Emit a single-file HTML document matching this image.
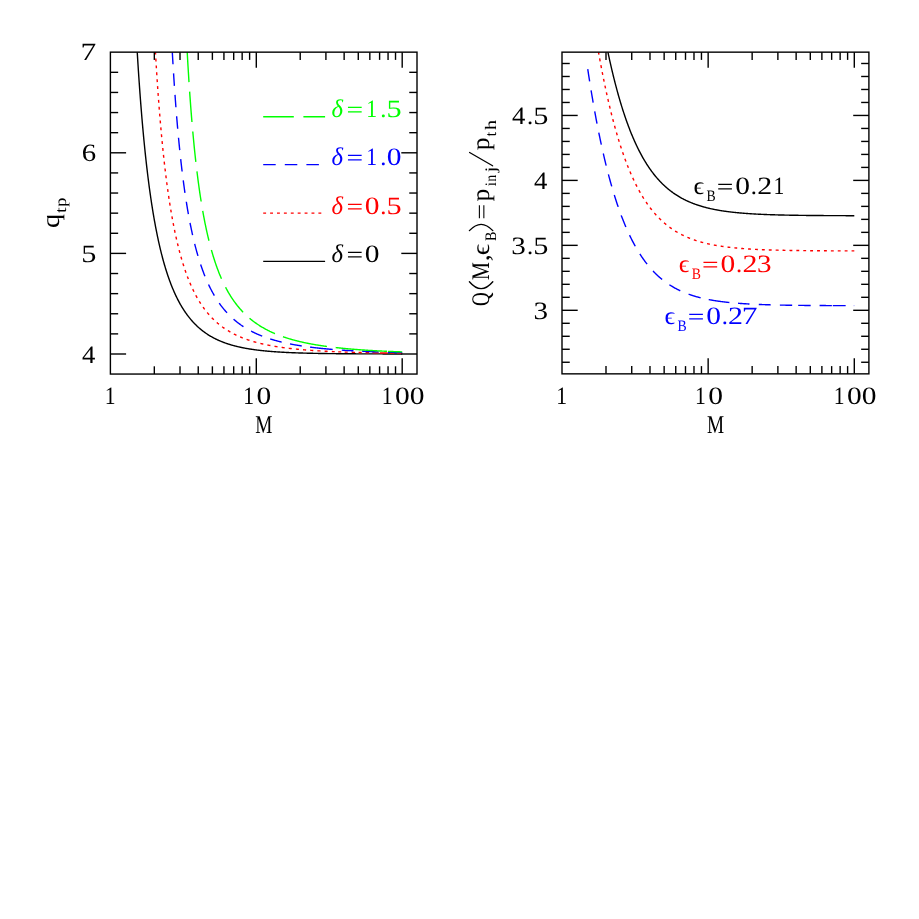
<!DOCTYPE html>
<html><head><meta charset="utf-8"><title>chart</title>
<style>html,body{margin:0;padding:0;background:#fff}svg{display:block;will-change:transform}text{font-family:"Liberation Serif",serif;text-rendering:geometricPrecision}</style>
</head><body>
<svg width="919" height="919" viewBox="0 0 919 919">
<rect width="919" height="919" fill="#fff"/>
<defs><clipPath id="cl"><rect x="110.4" y="52.15" width="306.6" height="321.90000000000003"/></clipPath><clipPath id="cr"><rect x="562.0" y="52.15" width="306.9" height="321.70000000000005"/></clipPath></defs>
<path d="M137.24,52.15 L137.62,58.41 L138.02,64.78 L138.42,70.95 L138.82,76.93 L139.22,82.74 L139.62,88.38 L140.02,93.86 L140.42,99.18 L140.82,104.35 L141.22,109.38 L141.61,114.26 L142.01,119.02 L142.41,123.65 L142.81,128.15 L143.21,132.54 L143.61,136.81 L144.01,140.97 L144.41,145.02 L144.81,148.97 L145.21,152.82 L145.61,156.58 L146.01,160.24 L146.41,163.81 L146.81,167.30 L147.20,170.70 L147.60,174.02 L148.00,177.27 L148.40,180.44 L148.80,183.53 L149.20,186.55 L149.60,189.51 L150.00,192.40 L150.40,195.22 L150.80,197.98 L151.20,200.68 L151.60,203.31 L152.00,205.90 L152.39,208.42 L152.79,210.89 L153.19,213.31 L153.59,215.68 L153.99,218.00 L154.39,220.27 L154.79,222.49 L155.19,224.66 L155.59,226.80 L155.99,228.88 L156.39,230.93 L156.79,232.94 L157.19,234.90 L157.59,236.83 L157.98,238.71 L158.38,240.56 L158.78,242.38 L159.18,244.16 L159.58,245.90 L159.98,247.62 L160.38,249.29 L160.78,250.94 L161.18,252.56 L161.58,254.14 L161.98,255.70 L162.38,257.23 L162.78,258.73 L163.18,260.20 L163.57,261.64 L163.97,263.06 L164.37,264.45 L164.77,265.82 L165.17,267.16 L165.57,268.48 L165.97,269.77 L166.37,271.05 L166.77,272.30 L167.17,273.52 L167.57,274.73 L167.97,275.92 L168.37,277.08 L168.76,278.23 L169.16,279.35 L169.56,280.46 L169.96,281.54 L170.36,282.61 L170.76,283.66 L171.16,284.69 L171.56,285.71 L171.96,286.71 L172.36,287.69 L172.76,288.65 L173.16,289.60 L173.56,290.54 L173.96,291.46 L174.35,292.36 L174.75,293.25 L175.15,294.12 L175.55,294.98 L175.95,295.83 L176.35,296.66 L176.75,297.48 L177.15,298.28 L177.55,299.08 L177.95,299.86 L178.35,300.63 L178.75,301.38 L179.15,302.13 L179.54,302.86 L179.94,303.58 L180.34,304.29 L180.74,304.99 L181.14,305.67 L181.54,306.35 L181.94,307.02 L182.34,307.67 L182.74,308.32 L183.14,308.96 L183.54,309.58 L183.94,310.20 L184.34,310.81 L184.74,311.40 L185.13,311.99 L185.53,312.57 L185.93,313.14 L186.33,313.71 L186.73,314.26 L187.13,314.81 L187.53,315.35 L187.93,315.88 L188.33,316.40 L188.73,316.91 L189.13,317.42 L189.53,317.92 L189.93,318.41 L190.32,318.89 L190.72,319.37 L191.12,319.84 L191.52,320.31 L191.92,320.76 L192.32,321.21 L192.72,321.66 L193.12,322.09 L193.52,322.52 L193.92,322.95 L194.32,323.37 L194.72,323.78 L195.12,324.19 L195.52,324.59 L195.91,324.98 L196.31,325.37 L196.71,325.76 L197.11,326.13 L197.51,326.51 L197.91,326.87 L198.31,327.24 L198.71,327.59 L199.11,327.95 L199.51,328.29 L199.91,328.63 L200.31,328.97 L200.71,329.30 L201.10,329.63 L201.50,329.96 L201.90,330.28 L202.30,330.59 L202.70,330.90 L203.10,331.21 L203.50,331.51 L203.90,331.80 L204.30,332.10 L204.70,332.39 L205.10,332.67 L205.50,332.95 L205.90,333.23 L206.30,333.50 L206.69,333.77 L207.09,334.04 L207.49,334.30 L207.89,334.56 L208.29,334.81 L208.69,335.07 L209.09,335.31 L209.49,335.56 L209.89,335.80 L210.29,336.04 L210.69,336.27 L211.09,336.50 L211.49,336.73 L211.88,336.96 L212.28,337.18 L212.68,337.40 L213.08,337.62 L213.48,337.83 L213.88,338.04 L214.28,338.25 L214.68,338.45 L215.08,338.65 L215.48,338.85 L215.88,339.05 L216.28,339.25 L216.68,339.44 L217.08,339.63 L217.47,339.81 L217.87,340.00 L218.27,340.18 L218.67,340.36 L219.07,340.53 L219.47,340.71 L219.87,340.88 L220.27,341.05 L220.67,341.22 L221.07,341.38 L221.47,341.54 L221.87,341.70 L222.27,341.86 L222.67,342.02 L223.06,342.17 L223.46,342.33 L223.86,342.48 L224.26,342.63 L224.66,342.77 L225.06,342.92 L225.46,343.06 L225.86,343.20 L226.26,343.34 L226.66,343.48 L227.06,343.61 L227.46,343.74 L227.86,343.88 L228.25,344.01 L228.65,344.13 L229.05,344.26 L229.45,344.39 L229.85,344.51 L230.25,344.63 L230.65,344.75 L231.05,344.87 L231.45,344.99 L231.85,345.10 L232.25,345.21 L232.65,345.33 L233.05,345.44 L233.45,345.55 L233.84,345.66 L234.24,345.76 L234.64,345.87 L235.04,345.97 L235.44,346.07 L235.84,346.18 L236.24,346.27 L236.64,346.37 L237.04,346.47 L237.44,346.57 L237.84,346.66 L238.24,346.76 L238.64,346.85 L239.03,346.94 L239.43,347.03 L239.83,347.12 L240.23,347.21 L240.63,347.29 L241.03,347.38 L241.43,347.46 L241.83,347.54 L242.23,347.63 L242.63,347.71 L243.03,347.79 L243.43,347.87 L243.83,347.94 L244.23,348.02 L244.62,348.10 L245.02,348.17 L245.42,348.25 L245.82,348.32 L246.22,348.39 L246.62,348.46 L247.02,348.53 L247.42,348.60 L247.82,348.67 L248.22,348.74 L248.62,348.81 L249.02,348.87 L249.42,348.94 L249.81,349.00 L250.21,349.06 L250.61,349.13 L251.01,349.19 L251.41,349.25 L251.81,349.31 L252.21,349.37 L252.61,349.43 L253.01,349.49 L253.41,349.54 L253.81,349.60 L254.21,349.65 L254.61,349.71 L255.01,349.76 L255.40,349.82 L255.80,349.87 L256.20,349.92 L256.60,349.97 L257.00,350.03 L257.40,350.08 L257.80,350.13 L258.20,350.17 L258.60,350.22 L259.00,350.27 L259.40,350.32 L259.80,350.36 L260.20,350.41 L260.59,350.46 L260.99,350.50 L261.39,350.54 L261.79,350.59 L262.19,350.63 L262.59,350.67 L262.99,350.72 L263.39,350.76 L263.79,350.80 L264.19,350.84 L264.59,350.88 L264.99,350.92 L265.39,350.96 L265.79,350.99 L266.18,351.03 L266.58,351.07 L266.98,351.11 L267.38,351.14 L267.78,351.18 L268.18,351.22 L268.58,351.25 L268.98,351.29 L269.38,351.32 L269.78,351.35 L270.18,351.39 L270.58,351.42 L270.98,351.45 L271.38,351.48 L271.77,351.52 L272.17,351.55 L272.57,351.58 L272.97,351.61 L273.37,351.64 L273.77,351.67 L274.17,351.70 L274.57,351.73 L274.97,351.76 L275.37,351.78 L275.77,351.81 L276.17,351.84 L276.57,351.87 L276.96,351.89 L277.36,351.92 L277.76,351.95 L278.16,351.97 L278.56,352.00 L278.96,352.02 L279.36,352.05 L279.76,352.07 L280.16,352.10 L280.56,352.12 L280.96,352.14 L281.36,352.17 L281.76,352.19 L282.16,352.21 L282.55,352.24 L282.95,352.26 L283.35,352.28 L283.75,352.30 L284.15,352.32 L284.55,352.34 L284.95,352.36 L285.35,352.38 L285.75,352.41 L286.15,352.43 L286.55,352.45 L286.95,352.46 L287.35,352.48 L287.74,352.50 L288.14,352.52 L288.54,352.54 L288.94,352.56 L289.34,352.58 L289.74,352.59 L290.14,352.61 L290.54,352.63 L290.94,352.65 L291.34,352.66 L291.74,352.68 L292.14,352.70 L292.54,352.71 L292.94,352.73 L293.33,352.75 L293.73,352.76 L294.13,352.78 L294.53,352.79 L294.93,352.81 L295.33,352.82 L295.73,352.84 L296.13,352.85 L296.53,352.87 L296.93,352.88 L297.33,352.89 L297.73,352.91 L298.13,352.92 L298.52,352.94 L298.92,352.95 L299.32,352.96 L299.72,352.98 L300.12,352.99 L300.52,353.00 L300.92,353.01 L301.32,353.03 L301.72,353.04 L302.12,353.05 L302.52,353.06 L302.92,353.07 L303.32,353.09 L303.72,353.10 L304.11,353.11 L304.51,353.12 L304.91,353.13 L305.31,353.14 L305.71,353.15 L306.11,353.16 L306.51,353.17 L306.91,353.18 L307.31,353.19 L307.71,353.20 L308.11,353.21 L308.51,353.22 L308.91,353.23 L309.30,353.24 L309.70,353.25 L310.10,353.26 L310.50,353.27 L310.90,353.28 L311.30,353.29 L311.70,353.30 L312.10,353.31 L312.50,353.32 L312.90,353.32 L313.30,353.33 L313.70,353.34 L314.10,353.35 L314.50,353.36 L314.89,353.37 L315.29,353.37 L315.69,353.38 L316.09,353.39 L316.49,353.40 L316.89,353.40 L317.29,353.41 L317.69,353.42 L318.09,353.43 L318.49,353.43 L318.89,353.44 L319.29,353.45 L319.69,353.46 L320.09,353.46 L320.48,353.47 L320.88,353.48 L321.28,353.48 L321.68,353.49 L322.08,353.49 L322.48,353.50 L322.88,353.51 L323.28,353.51 L323.68,353.52 L324.08,353.53 L324.48,353.53 L324.88,353.54 L325.28,353.54 L325.67,353.55 L326.07,353.55 L326.47,353.56 L326.87,353.57 L327.27,353.57 L327.67,353.58 L328.07,353.58 L328.47,353.59 L328.87,353.59 L329.27,353.60 L329.67,353.60 L330.07,353.61 L330.47,353.61 L330.87,353.62 L331.26,353.62 L331.66,353.63 L332.06,353.63 L332.46,353.64 L332.86,353.64 L333.26,353.65 L333.66,353.65 L334.06,353.65 L334.46,353.66 L334.86,353.66 L335.26,353.67 L335.66,353.67 L336.06,353.68 L336.45,353.68 L336.85,353.68 L337.25,353.69 L337.65,353.69 L338.05,353.69 L338.45,353.70 L338.85,353.70 L339.25,353.71 L339.65,353.71 L340.05,353.71 L340.45,353.72 L340.85,353.72 L341.25,353.72 L341.65,353.73 L342.04,353.73 L342.44,353.73 L342.84,353.74 L343.24,353.74 L343.64,353.74 L344.04,353.75 L344.44,353.75 L344.84,353.75 L345.24,353.76 L345.64,353.76 L346.04,353.76 L346.44,353.77 L346.84,353.77 L347.23,353.77 L347.63,353.77 L348.03,353.78 L348.43,353.78 L348.83,353.78 L349.23,353.79 L349.63,353.79 L350.03,353.79 L350.43,353.79 L350.83,353.80 L351.23,353.80 L351.63,353.80 L352.03,353.80 L352.43,353.81 L352.82,353.81 L353.22,353.81 L353.62,353.81 L354.02,353.82 L354.42,353.82 L354.82,353.82 L355.22,353.82 L355.62,353.82 L356.02,353.83 L356.42,353.83 L356.82,353.83 L357.22,353.83 L357.62,353.84 L358.01,353.84 L358.41,353.84 L358.81,353.84 L359.21,353.84 L359.61,353.85 L360.01,353.85 L360.41,353.85 L360.81,353.85 L361.21,353.85 L361.61,353.86 L362.01,353.86 L362.41,353.86 L362.81,353.86 L363.21,353.86 L363.60,353.86 L364.00,353.87 L364.40,353.87 L364.80,353.87 L365.20,353.87 L365.60,353.87 L366.00,353.87 L366.40,353.88 L366.80,353.88 L367.20,353.88 L367.60,353.88 L368.00,353.88 L368.40,353.88 L368.80,353.88 L369.19,353.89 L369.59,353.89 L369.99,353.89 L370.39,353.89 L370.79,353.89 L371.19,353.89 L371.59,353.89 L371.99,353.90 L372.39,353.90 L372.79,353.90 L373.19,353.90 L373.59,353.90 L373.99,353.90 L374.38,353.90 L374.78,353.90 L375.18,353.91 L375.58,353.91 L375.98,353.91 L376.38,353.91 L376.78,353.91 L377.18,353.91 L377.58,353.91 L377.98,353.91 L378.38,353.91 L378.78,353.92 L379.18,353.92 L379.58,353.92 L379.97,353.92 L380.37,353.92 L380.77,353.92 L381.17,353.92 L381.57,353.92 L381.97,353.92 L382.37,353.92 L382.77,353.93 L383.17,353.93 L383.57,353.93 L383.97,353.93 L384.37,353.93 L384.77,353.93 L385.16,353.93 L385.56,353.93 L385.96,353.93 L386.36,353.93 L386.76,353.93 L387.16,353.94 L387.56,353.94 L387.96,353.94 L388.36,353.94 L388.76,353.94 L389.16,353.94 L389.56,353.94 L389.96,353.94 L390.36,353.94 L390.75,353.94 L391.15,353.94 L391.55,353.94 L391.95,353.94 L392.35,353.95 L392.75,353.95 L393.15,353.95 L393.55,353.95 L393.95,353.95 L394.35,353.95 L394.75,353.95 L395.15,353.95 L395.55,353.95 L395.94,353.95 L396.34,353.95 L396.74,353.95 L397.14,353.95 L397.54,353.95 L397.94,353.95 L398.34,353.95 L398.74,353.96 L399.14,353.96 L399.54,353.96 L399.94,353.96 L400.34,353.96 L400.74,353.96 L401.14,353.96 L401.53,353.96 L401.93,353.96 L402.20,353.96" fill="none" stroke="#000" stroke-width="1.4" clip-path="url(#cl)"/>
<path d="M155.43,52.15 L155.79,58.31 L156.19,64.89 L156.59,71.24 L156.99,77.40 L157.39,83.35 L157.78,89.11 L158.18,94.70 L158.58,100.11 L158.98,105.36 L159.38,110.45 L159.78,115.38 L160.18,120.18 L160.58,124.83 L160.98,129.35 L161.38,133.75 L161.78,138.02 L162.18,142.17 L162.58,146.21 L162.98,150.14 L163.37,153.96 L163.77,157.68 L164.17,161.31 L164.57,164.84 L164.97,168.28 L165.37,171.63 L165.77,174.90 L166.17,178.08 L166.57,181.19 L166.97,184.22 L167.37,187.18 L167.77,190.06 L168.17,192.88 L168.57,195.63 L168.96,198.32 L169.36,200.94 L169.76,203.51 L170.16,206.01 L170.56,208.46 L170.96,210.86 L171.36,213.20 L171.76,215.49 L172.16,217.72 L172.56,219.91 L172.96,222.06 L173.36,224.15 L173.76,226.21 L174.15,228.22 L174.55,230.18 L174.95,232.11 L175.35,233.99 L175.75,235.84 L176.15,237.65 L176.55,239.42 L176.95,241.16 L177.35,242.86 L177.75,244.53 L178.15,246.17 L178.55,247.77 L178.95,249.35 L179.35,250.89 L179.74,252.40 L180.14,253.89 L180.54,255.34 L180.94,256.77 L181.34,258.17 L181.74,259.55 L182.14,260.90 L182.54,262.22 L182.94,263.52 L183.34,264.80 L183.74,266.05 L184.14,267.28 L184.54,268.49 L184.93,269.68 L185.33,270.85 L185.73,271.99 L186.13,273.12 L186.53,274.23 L186.93,275.31 L187.33,276.38 L187.73,277.43 L188.13,278.46 L188.53,279.48 L188.93,280.47 L189.33,281.45 L189.73,282.42 L190.13,283.37 L190.52,284.30 L190.92,285.21 L191.32,286.11 L191.72,287.00 L192.12,287.87 L192.52,288.73 L192.92,289.57 L193.32,290.41 L193.72,291.22 L194.12,292.03 L194.52,292.82 L194.92,293.60 L195.32,294.36 L195.71,295.12 L196.11,295.86 L196.51,296.59 L196.91,297.31 L197.31,298.02 L197.71,298.71 L198.11,299.40 L198.51,300.08 L198.91,300.74 L199.31,301.40 L199.71,302.04 L200.11,302.68 L200.51,303.31 L200.91,303.92 L201.30,304.53 L201.70,305.13 L202.10,305.72 L202.50,306.30 L202.90,306.87 L203.30,307.44 L203.70,307.99 L204.10,308.54 L204.50,309.08 L204.90,309.61 L205.30,310.14 L205.70,310.66 L206.10,311.16 L206.49,311.67 L206.89,312.16 L207.29,312.65 L207.69,313.13 L208.09,313.61 L208.49,314.07 L208.89,314.54 L209.29,314.99 L209.69,315.44 L210.09,315.88 L210.49,316.32 L210.89,316.75 L211.29,317.17 L211.69,317.59 L212.08,318.00 L212.48,318.41 L212.88,318.81 L213.28,319.21 L213.68,319.60 L214.08,319.98 L214.48,320.36 L214.88,320.74 L215.28,321.11 L215.68,321.47 L216.08,321.83 L216.48,322.19 L216.88,322.54 L217.28,322.89 L217.67,323.23 L218.07,323.56 L218.47,323.90 L218.87,324.23 L219.27,324.55 L219.67,324.87 L220.07,325.19 L220.47,325.50 L220.87,325.81 L221.27,326.11 L221.67,326.41 L222.07,326.70 L222.47,327.00 L222.86,327.29 L223.26,327.57 L223.66,327.85 L224.06,328.13 L224.46,328.40 L224.86,328.67 L225.26,328.94 L225.66,329.21 L226.06,329.47 L226.46,329.72 L226.86,329.98 L227.26,330.23 L227.66,330.48 L228.06,330.72 L228.45,330.96 L228.85,331.20 L229.25,331.44 L229.65,331.67 L230.05,331.90 L230.45,332.13 L230.85,332.35 L231.25,332.58 L231.65,332.79 L232.05,333.01 L232.45,333.23 L232.85,333.44 L233.25,333.65 L233.64,333.85 L234.04,334.06 L234.44,334.26 L234.84,334.46 L235.24,334.65 L235.64,334.85 L236.04,335.04 L236.44,335.23 L236.84,335.42 L237.24,335.60 L237.64,335.79 L238.04,335.97 L238.44,336.15 L238.84,336.32 L239.23,336.50 L239.63,336.67 L240.03,336.84 L240.43,337.01 L240.83,337.18 L241.23,337.34 L241.63,337.50 L242.03,337.67 L242.43,337.82 L242.83,337.98 L243.23,338.14 L243.63,338.29 L244.03,338.44 L244.42,338.59 L244.82,338.74 L245.22,338.89 L245.62,339.04 L246.02,339.18 L246.42,339.32 L246.82,339.46 L247.22,339.60 L247.62,339.74 L248.02,339.87 L248.42,340.01 L248.82,340.14 L249.22,340.27 L249.62,340.40 L250.01,340.53 L250.41,340.66 L250.81,340.78 L251.21,340.91 L251.61,341.03 L252.01,341.15 L252.41,341.27 L252.81,341.39 L253.21,341.51 L253.61,341.63 L254.01,341.74 L254.41,341.85 L254.81,341.97 L255.20,342.08 L255.60,342.19 L256.00,342.30 L256.40,342.41 L256.80,342.51 L257.20,342.62 L257.60,342.72 L258.00,342.83 L258.40,342.93 L258.80,343.03 L259.20,343.13 L259.60,343.23 L260.00,343.33 L260.40,343.42 L260.79,343.52 L261.19,343.61 L261.59,343.71 L261.99,343.80 L262.39,343.89 L262.79,343.98 L263.19,344.07 L263.59,344.16 L263.99,344.25 L264.39,344.34 L264.79,344.42 L265.19,344.51 L265.59,344.59 L265.99,344.68 L266.38,344.76 L266.78,344.84 L267.18,344.92 L267.58,345.00 L267.98,345.08 L268.38,345.16 L268.78,345.24 L269.18,345.32 L269.58,345.39 L269.98,345.47 L270.38,345.54 L270.78,345.62 L271.18,345.69 L271.57,345.76 L271.97,345.83 L272.37,345.91 L272.77,345.98 L273.17,346.05 L273.57,346.11 L273.97,346.18 L274.37,346.25 L274.77,346.32 L275.17,346.38 L275.57,346.45 L275.97,346.51 L276.37,346.58 L276.77,346.64 L277.16,346.70 L277.56,346.77 L277.96,346.83 L278.36,346.89 L278.76,346.95 L279.16,347.01 L279.56,347.07 L279.96,347.13 L280.36,347.19 L280.76,347.24 L281.16,347.30 L281.56,347.36 L281.96,347.41 L282.35,347.47 L282.75,347.52 L283.15,347.58 L283.55,347.63 L283.95,347.69 L284.35,347.74 L284.75,347.79 L285.15,347.84 L285.55,347.89 L285.95,347.94 L286.35,347.99 L286.75,348.04 L287.15,348.09 L287.55,348.14 L287.94,348.19 L288.34,348.24 L288.74,348.29 L289.14,348.33 L289.54,348.38 L289.94,348.43 L290.34,348.47 L290.74,348.52 L291.14,348.56 L291.54,348.61 L291.94,348.65 L292.34,348.69 L292.74,348.74 L293.13,348.78 L293.53,348.82 L293.93,348.87 L294.33,348.91 L294.73,348.95 L295.13,348.99 L295.53,349.03 L295.93,349.07 L296.33,349.11 L296.73,349.15 L297.13,349.19 L297.53,349.23 L297.93,349.27 L298.33,349.30 L298.72,349.34 L299.12,349.38 L299.52,349.41 L299.92,349.45 L300.32,349.49 L300.72,349.52 L301.12,349.56 L301.52,349.59 L301.92,349.63 L302.32,349.66 L302.72,349.70 L303.12,349.73 L303.52,349.77 L303.91,349.80 L304.31,349.83 L304.71,349.87 L305.11,349.90 L305.51,349.93 L305.91,349.96 L306.31,349.99 L306.71,350.03 L307.11,350.06 L307.51,350.09 L307.91,350.12 L308.31,350.15 L308.71,350.18 L309.11,350.21 L309.50,350.24 L309.90,350.27 L310.30,350.30 L310.70,350.32 L311.10,350.35 L311.50,350.38 L311.90,350.41 L312.30,350.44 L312.70,350.46 L313.10,350.49 L313.50,350.52 L313.90,350.55 L314.30,350.57 L314.70,350.60 L315.09,350.62 L315.49,350.65 L315.89,350.68 L316.29,350.70 L316.69,350.73 L317.09,350.75 L317.49,350.78 L317.89,350.80 L318.29,350.83 L318.69,350.85 L319.09,350.87 L319.49,350.90 L319.89,350.92 L320.28,350.94 L320.68,350.97 L321.08,350.99 L321.48,351.01 L321.88,351.04 L322.28,351.06 L322.68,351.08 L323.08,351.10 L323.48,351.12 L323.88,351.15 L324.28,351.17 L324.68,351.19 L325.08,351.21 L325.48,351.23 L325.87,351.25 L326.27,351.27 L326.67,351.29 L327.07,351.31 L327.47,351.33 L327.87,351.35 L328.27,351.37 L328.67,351.39 L329.07,351.41 L329.47,351.43 L329.87,351.45 L330.27,351.47 L330.67,351.49 L331.06,351.51 L331.46,351.52 L331.86,351.54 L332.26,351.56 L332.66,351.58 L333.06,351.60 L333.46,351.61 L333.86,351.63 L334.26,351.65 L334.66,351.67 L335.06,351.68 L335.46,351.70 L335.86,351.72 L336.26,351.73 L336.65,351.75 L337.05,351.77 L337.45,351.78 L337.85,351.80 L338.25,351.82 L338.65,351.83 L339.05,351.85 L339.45,351.86 L339.85,351.88 L340.25,351.89 L340.65,351.91 L341.05,351.92 L341.45,351.94 L341.84,351.95 L342.24,351.97 L342.64,351.98 L343.04,352.00 L343.44,352.01 L343.84,352.03 L344.24,352.04 L344.64,352.06 L345.04,352.07 L345.44,352.08 L345.84,352.10 L346.24,352.11 L346.64,352.12 L347.04,352.14 L347.43,352.15 L347.83,352.16 L348.23,352.18 L348.63,352.19 L349.03,352.20 L349.43,352.22 L349.83,352.23 L350.23,352.24 L350.63,352.25 L351.03,352.27 L351.43,352.28 L351.83,352.29 L352.23,352.30 L352.62,352.32 L353.02,352.33 L353.42,352.34 L353.82,352.35 L354.22,352.36 L354.62,352.37 L355.02,352.39 L355.42,352.40 L355.82,352.41 L356.22,352.42 L356.62,352.43 L357.02,352.44 L357.42,352.45 L357.82,352.46 L358.21,352.48 L358.61,352.49 L359.01,352.50 L359.41,352.51 L359.81,352.52 L360.21,352.53 L360.61,352.54 L361.01,352.55 L361.41,352.56 L361.81,352.57 L362.21,352.58 L362.61,352.59 L363.01,352.60 L363.41,352.61 L363.80,352.62 L364.20,352.63 L364.60,352.64 L365.00,352.65 L365.40,352.66 L365.80,352.67 L366.20,352.67 L366.60,352.68 L367.00,352.69 L367.40,352.70 L367.80,352.71 L368.20,352.72 L368.60,352.73 L368.99,352.74 L369.39,352.75 L369.79,352.76 L370.19,352.76 L370.59,352.77 L370.99,352.78 L371.39,352.79 L371.79,352.80 L372.19,352.81 L372.59,352.81 L372.99,352.82 L373.39,352.83 L373.79,352.84 L374.19,352.85 L374.58,352.85 L374.98,352.86 L375.38,352.87 L375.78,352.88 L376.18,352.89 L376.58,352.89 L376.98,352.90 L377.38,352.91 L377.78,352.92 L378.18,352.92 L378.58,352.93 L378.98,352.94 L379.38,352.95 L379.77,352.95 L380.17,352.96 L380.57,352.97 L380.97,352.97 L381.37,352.98 L381.77,352.99 L382.17,352.99 L382.57,353.00 L382.97,353.01 L383.37,353.02 L383.77,353.02 L384.17,353.03 L384.57,353.04 L384.97,353.04 L385.36,353.05 L385.76,353.05 L386.16,353.06 L386.56,353.07 L386.96,353.07 L387.36,353.08 L387.76,353.09 L388.16,353.09 L388.56,353.10 L388.96,353.10 L389.36,353.11 L389.76,353.12 L390.16,353.12 L390.55,353.13 L390.95,353.13 L391.35,353.14 L391.75,353.15 L392.15,353.15 L392.55,353.16 L392.95,353.16 L393.35,353.17 L393.75,353.17 L394.15,353.18 L394.55,353.19 L394.95,353.19 L395.35,353.20 L395.75,353.20 L396.14,353.21 L396.54,353.21 L396.94,353.22 L397.34,353.22 L397.74,353.23 L398.14,353.23 L398.54,353.24 L398.94,353.24 L399.34,353.25 L399.74,353.25 L400.14,353.26 L400.54,353.26 L400.94,353.27 L401.33,353.27 L401.73,353.28 L402.13,353.28 L402.20,353.28" fill="none" stroke="#ff0000" stroke-width="1.4" stroke-dasharray="2.40 4.00 2.90 4.00 2.90 4.00 2.90 4.00 2.90 4.00 2.90 4.00 2.90 4.00 2.90 4.00 2.90 4.00 2.90 4.00 2.90 4.00 2.90 4.00 2.90 4.00 2.90 4.00 2.90 4.00 2.90 4.00 2.90 4.00 2.90 4.00 2.90 4.00 2.90 4.00 2.90 4.00 2.90 4.00 2.90 4.00 2.90 4.00 2.90 4.00 2.90 4.00 2.90 4.00 2.90 4.00 2.90 4.00 2.90 4.00 2.90 4.00 2.90 4.00 2.90 4.00 2.90 4.00 2.90 4.00 2.90 4.00 2.90 4.00 2.90 4.00 2.90 4.00 2.90 4.00 2.90 4.00 2.90 4.00 2.90 4.00 2.90 4.00 2.90 4.00 2.90 4.00 3.05 4.15 3.05 4.15 3.05 4.15 3.05 4.15 3.05 4.15 3.05 4.15 3.05 4.15 3.05 4.15 3.05 4.15 3.05 4.15 3.05 4.15 3.05 4.15 2.90 3.50 3.00 3.50 3.00 4.00 3.40 3.50 3.10 3.90 3.50 3.40 6.10 1.30 7.90 2.20 4.30 2.60 10.20 5000.00" clip-path="url(#cl)"/>
<path d="M172.30,52.15 L172.69,59.02 L173.09,65.75 L173.49,72.24 L173.89,78.50 L174.29,84.55 L174.69,90.40 L175.09,96.05 L175.49,101.51 L175.88,106.80 L176.28,111.91 L176.68,116.87 L177.08,121.68 L177.48,126.33 L177.88,130.85 L178.28,135.23 L178.68,139.48 L179.08,143.61 L179.48,147.62 L179.88,151.51 L180.28,155.30 L180.68,158.98 L181.08,162.56 L181.47,166.04 L181.87,169.43 L182.27,172.73 L182.67,175.94 L183.07,179.07 L183.47,182.12 L183.87,185.10 L184.27,187.99 L184.67,190.82 L185.07,193.57 L185.47,196.26 L185.87,198.88 L186.27,201.44 L186.66,203.94 L187.06,206.38 L187.46,208.77 L187.86,211.10 L188.26,213.37 L188.66,215.60 L189.06,217.77 L189.46,219.90 L189.86,221.97 L190.26,224.01 L190.66,226.00 L191.06,227.94 L191.46,229.85 L191.86,231.71 L192.25,233.54 L192.65,235.32 L193.05,237.07 L193.45,238.79 L193.85,240.47 L194.25,242.11 L194.65,243.72 L195.05,245.30 L195.45,246.85 L195.85,248.37 L196.25,249.86 L196.65,251.32 L197.05,252.75 L197.45,254.15 L197.84,255.53 L198.24,256.88 L198.64,258.20 L199.04,259.51 L199.44,260.78 L199.84,262.04 L200.24,263.27 L200.64,264.48 L201.04,265.66 L201.44,266.83 L201.84,267.97 L202.24,269.10 L202.64,270.20 L203.03,271.29 L203.43,272.35 L203.83,273.40 L204.23,274.43 L204.63,275.44 L205.03,276.44 L205.43,277.42 L205.83,278.38 L206.23,279.32 L206.63,280.25 L207.03,281.17 L207.43,282.07 L207.83,282.95 L208.23,283.82 L208.62,284.68 L209.02,285.52 L209.42,286.35 L209.82,287.16 L210.22,287.97 L210.62,288.76 L211.02,289.53 L211.42,290.30 L211.82,291.05 L212.22,291.79 L212.62,292.52 L213.02,293.24 L213.42,293.95 L213.81,294.65 L214.21,295.34 L214.61,296.01 L215.01,296.68 L215.41,297.34 L215.81,297.98 L216.21,298.62 L216.61,299.25 L217.01,299.87 L217.41,300.48 L217.81,301.08 L218.21,301.67 L218.61,302.25 L219.01,302.83 L219.40,303.39 L219.80,303.95 L220.20,304.50 L220.60,305.05 L221.00,305.58 L221.40,306.11 L221.80,306.63 L222.20,307.14 L222.60,307.65 L223.00,308.15 L223.40,308.64 L223.80,309.13 L224.20,309.60 L224.59,310.08 L224.99,310.54 L225.39,311.00 L225.79,311.46 L226.19,311.90 L226.59,312.34 L226.99,312.78 L227.39,313.21 L227.79,313.63 L228.19,314.05 L228.59,314.47 L228.99,314.87 L229.39,315.28 L229.79,315.67 L230.18,316.07 L230.58,316.45 L230.98,316.84 L231.38,317.21 L231.78,317.59 L232.18,317.95 L232.58,318.32 L232.98,318.67 L233.38,319.03 L233.78,319.38 L234.18,319.72 L234.58,320.06 L234.98,320.40 L235.37,320.73 L235.77,321.06 L236.17,321.39 L236.57,321.71 L236.97,322.02 L237.37,322.34 L237.77,322.64 L238.17,322.95 L238.57,323.25 L238.97,323.55 L239.37,323.84 L239.77,324.13 L240.17,324.42 L240.57,324.71 L240.96,324.99 L241.36,325.26 L241.76,325.54 L242.16,325.81 L242.56,326.07 L242.96,326.34 L243.36,326.60 L243.76,326.86 L244.16,327.11 L244.56,327.37 L244.96,327.62 L245.36,327.86 L245.76,328.11 L246.16,328.35 L246.55,328.59 L246.95,328.82 L247.35,329.05 L247.75,329.28 L248.15,329.51 L248.55,329.74 L248.95,329.96 L249.35,330.18 L249.75,330.40 L250.15,330.61 L250.55,330.82 L250.95,331.04 L251.35,331.24 L251.74,331.45 L252.14,331.65 L252.54,331.85 L252.94,332.05 L253.34,332.25 L253.74,332.45 L254.14,332.64 L254.54,332.83 L254.94,333.02 L255.34,333.20 L255.74,333.39 L256.14,333.57 L256.54,333.75 L256.94,333.93 L257.33,334.11 L257.73,334.28 L258.13,334.46 L258.53,334.63 L258.93,334.80 L259.33,334.96 L259.73,335.13 L260.13,335.29 L260.53,335.46 L260.93,335.62 L261.33,335.78 L261.73,335.93 L262.13,336.09 L262.52,336.24 L262.92,336.40 L263.32,336.55 L263.72,336.70 L264.12,336.84 L264.52,336.99 L264.92,337.14 L265.32,337.28 L265.72,337.42 L266.12,337.56 L266.52,337.70 L266.92,337.84 L267.32,337.98 L267.72,338.11 L268.11,338.25 L268.51,338.38 L268.91,338.51 L269.31,338.64 L269.71,338.77 L270.11,338.89 L270.51,339.02 L270.91,339.14 L271.31,339.27 L271.71,339.39 L272.11,339.51 L272.51,339.63 L272.91,339.75 L273.30,339.87 L273.70,339.98 L274.10,340.10 L274.50,340.21 L274.90,340.33 L275.30,340.44 L275.70,340.55 L276.10,340.66 L276.50,340.77 L276.90,340.88 L277.30,340.98 L277.70,341.09 L278.10,341.19 L278.50,341.30 L278.89,341.40 L279.29,341.50 L279.69,341.60 L280.09,341.70 L280.49,341.80 L280.89,341.90 L281.29,342.00 L281.69,342.09 L282.09,342.19 L282.49,342.28 L282.89,342.38 L283.29,342.47 L283.69,342.56 L284.08,342.65 L284.48,342.74 L284.88,342.83 L285.28,342.92 L285.68,343.01 L286.08,343.09 L286.48,343.18 L286.88,343.26 L287.28,343.35 L287.68,343.43 L288.08,343.52 L288.48,343.60 L288.88,343.68 L289.28,343.76 L289.67,343.84 L290.07,343.92 L290.47,344.00 L290.87,344.08 L291.27,344.15 L291.67,344.23 L292.07,344.31 L292.47,344.38 L292.87,344.45 L293.27,344.53 L293.67,344.60 L294.07,344.67 L294.47,344.75 L294.87,344.82 L295.26,344.89 L295.66,344.96 L296.06,345.03 L296.46,345.10 L296.86,345.16 L297.26,345.23 L297.66,345.30 L298.06,345.36 L298.46,345.43 L298.86,345.50 L299.26,345.56 L299.66,345.62 L300.06,345.69 L300.45,345.75 L300.85,345.81 L301.25,345.88 L301.65,345.94 L302.05,346.00 L302.45,346.06 L302.85,346.12 L303.25,346.18 L303.65,346.24 L304.05,346.29 L304.45,346.35 L304.85,346.41 L305.25,346.47 L305.65,346.52 L306.04,346.58 L306.44,346.63 L306.84,346.69 L307.24,346.74 L307.64,346.80 L308.04,346.85 L308.44,346.90 L308.84,346.96 L309.24,347.01 L309.64,347.06 L310.04,347.11 L310.44,347.16 L310.84,347.21 L311.23,347.26 L311.63,347.31 L312.03,347.36 L312.43,347.41 L312.83,347.46 L313.23,347.51 L313.63,347.56 L314.03,347.60 L314.43,347.65 L314.83,347.70 L315.23,347.74 L315.63,347.79 L316.03,347.83 L316.43,347.88 L316.82,347.92 L317.22,347.97 L317.62,348.01 L318.02,348.05 L318.42,348.10 L318.82,348.14 L319.22,348.18 L319.62,348.23 L320.02,348.27 L320.42,348.31 L320.82,348.35 L321.22,348.39 L321.62,348.43 L322.01,348.47 L322.41,348.51 L322.81,348.55 L323.21,348.59 L323.61,348.63 L324.01,348.67 L324.41,348.71 L324.81,348.74 L325.21,348.78 L325.61,348.82 L326.01,348.86 L326.41,348.89 L326.81,348.93 L327.21,348.97 L327.60,349.00 L328.00,349.04 L328.40,349.07 L328.80,349.11 L329.20,349.14 L329.60,349.18 L330.00,349.21 L330.40,349.25 L330.80,349.28 L331.20,349.31 L331.60,349.35 L332.00,349.38 L332.40,349.41 L332.79,349.44 L333.19,349.48 L333.59,349.51 L333.99,349.54 L334.39,349.57 L334.79,349.60 L335.19,349.63 L335.59,349.66 L335.99,349.69 L336.39,349.72 L336.79,349.75 L337.19,349.78 L337.59,349.81 L337.99,349.84 L338.38,349.87 L338.78,349.90 L339.18,349.93 L339.58,349.96 L339.98,349.99 L340.38,350.01 L340.78,350.04 L341.18,350.07 L341.58,350.10 L341.98,350.12 L342.38,350.15 L342.78,350.18 L343.18,350.21 L343.57,350.23 L343.97,350.26 L344.37,350.28 L344.77,350.31 L345.17,350.33 L345.57,350.36 L345.97,350.39 L346.37,350.41 L346.77,350.44 L347.17,350.46 L347.57,350.48 L347.97,350.51 L348.37,350.53 L348.77,350.56 L349.16,350.58 L349.56,350.60 L349.96,350.63 L350.36,350.65 L350.76,350.67 L351.16,350.70 L351.56,350.72 L351.96,350.74 L352.36,350.76 L352.76,350.79 L353.16,350.81 L353.56,350.83 L353.96,350.85 L354.36,350.87 L354.75,350.90 L355.15,350.92 L355.55,350.94 L355.95,350.96 L356.35,350.98 L356.75,351.00 L357.15,351.02 L357.55,351.04 L357.95,351.06 L358.35,351.08 L358.75,351.10 L359.15,351.12 L359.55,351.14 L359.94,351.16 L360.34,351.18 L360.74,351.20 L361.14,351.22 L361.54,351.24 L361.94,351.25 L362.34,351.27 L362.74,351.29 L363.14,351.31 L363.54,351.33 L363.94,351.35 L364.34,351.36 L364.74,351.38 L365.14,351.40 L365.53,351.42 L365.93,351.43 L366.33,351.45 L366.73,351.47 L367.13,351.49 L367.53,351.50 L367.93,351.52 L368.33,351.54 L368.73,351.55 L369.13,351.57 L369.53,351.59 L369.93,351.60 L370.33,351.62 L370.72,351.63 L371.12,351.65 L371.52,351.67 L371.92,351.68 L372.32,351.70 L372.72,351.71 L373.12,351.73 L373.52,351.74 L373.92,351.76 L374.32,351.77 L374.72,351.79 L375.12,351.80 L375.52,351.82 L375.92,351.83 L376.31,351.85 L376.71,351.86 L377.11,351.88 L377.51,351.89 L377.91,351.90 L378.31,351.92 L378.71,351.93 L379.11,351.95 L379.51,351.96 L379.91,351.97 L380.31,351.99 L380.71,352.00 L381.11,352.01 L381.50,352.03 L381.90,352.04 L382.30,352.05 L382.70,352.07 L383.10,352.08 L383.50,352.09 L383.90,352.10 L384.30,352.12 L384.70,352.13 L385.10,352.14 L385.50,352.15 L385.90,352.17 L386.30,352.18 L386.70,352.19 L387.09,352.20 L387.49,352.21 L387.89,352.23 L388.29,352.24 L388.69,352.25 L389.09,352.26 L389.49,352.27 L389.89,352.28 L390.29,352.29 L390.69,352.31 L391.09,352.32 L391.49,352.33 L391.89,352.34 L392.28,352.35 L392.68,352.36 L393.08,352.37 L393.48,352.38 L393.88,352.39 L394.28,352.40 L394.68,352.41 L395.08,352.43 L395.48,352.44 L395.88,352.45 L396.28,352.46 L396.68,352.47 L397.08,352.48 L397.48,352.49 L397.87,352.50 L398.27,352.51 L398.67,352.52 L399.07,352.53 L399.47,352.54 L399.87,352.54 L400.27,352.55 L400.67,352.56 L401.07,352.57 L401.47,352.58 L401.87,352.59 L402.20,352.60" fill="none" stroke="#0000ff" stroke-width="1.4" stroke-dasharray="12.20 9.10 12.45 9.05 12.45 9.05 12.45 9.05 12.45 9.05 12.45 9.05 12.45 9.05 12.45 9.05 12.45 9.05 12.45 9.05 12.45 9.05 12.45 9.05 12.45 9.05 12.50 8.80 12.18 8.48 11.93 8.50 11.98 8.28 22.82 9.13 11.72 8.71 16.51 9.20 19.30 5000.00" clip-path="url(#cl)"/>
<path d="M187.21,52.15 L187.60,59.09 L188.00,65.94 L188.40,72.54 L188.79,78.89 L189.19,85.02 L189.59,90.93 L189.99,96.64 L190.39,102.15 L190.79,107.47 L191.19,112.62 L191.59,117.60 L191.99,122.41 L192.39,127.08 L192.79,131.60 L193.19,135.98 L193.59,140.22 L193.98,144.34 L194.38,148.33 L194.78,152.21 L195.18,155.98 L195.58,159.63 L195.98,163.19 L196.38,166.64 L196.78,170.00 L197.18,173.27 L197.58,176.45 L197.98,179.55 L198.38,182.56 L198.78,185.50 L199.18,188.36 L199.57,191.14 L199.97,193.86 L200.37,196.51 L200.77,199.09 L201.17,201.61 L201.57,204.07 L201.97,206.48 L202.37,208.82 L202.77,211.11 L203.17,213.34 L203.57,215.53 L203.97,217.66 L204.37,219.75 L204.76,221.79 L205.16,223.78 L205.56,225.73 L205.96,227.64 L206.36,229.51 L206.76,231.34 L207.16,233.12 L207.56,234.87 L207.96,236.59 L208.36,238.27 L208.76,239.91 L209.16,241.52 L209.56,243.10 L209.96,244.64 L210.35,246.16 L210.75,247.64 L211.15,249.10 L211.55,250.53 L211.95,251.93 L212.35,253.30 L212.75,254.65 L213.15,255.97 L213.55,257.27 L213.95,258.54 L214.35,259.79 L214.75,261.02 L215.15,262.22 L215.54,263.40 L215.94,264.56 L216.34,265.70 L216.74,266.82 L217.14,267.92 L217.54,269.00 L217.94,270.07 L218.34,271.11 L218.74,272.14 L219.14,273.14 L219.54,274.14 L219.94,275.11 L220.34,276.07 L220.74,277.01 L221.13,277.94 L221.53,278.85 L221.93,279.74 L222.33,280.62 L222.73,281.49 L223.13,282.35 L223.53,283.19 L223.93,284.01 L224.33,284.82 L224.73,285.63 L225.13,286.41 L225.53,287.19 L225.93,287.95 L226.32,288.70 L226.72,289.44 L227.12,290.17 L227.52,290.89 L227.92,291.60 L228.32,292.29 L228.72,292.98 L229.12,293.66 L229.52,294.32 L229.92,294.98 L230.32,295.63 L230.72,296.26 L231.12,296.89 L231.52,297.51 L231.91,298.12 L232.31,298.72 L232.71,299.31 L233.11,299.90 L233.51,300.47 L233.91,301.04 L234.31,301.60 L234.71,302.15 L235.11,302.70 L235.51,303.23 L235.91,303.76 L236.31,304.29 L236.71,304.80 L237.11,305.31 L237.50,305.81 L237.90,306.31 L238.30,306.79 L238.70,307.28 L239.10,307.75 L239.50,308.22 L239.90,308.68 L240.30,309.14 L240.70,309.59 L241.10,310.03 L241.50,310.47 L241.90,310.91 L242.30,311.34 L242.69,311.76 L243.09,312.17 L243.49,312.59 L243.89,312.99 L244.29,313.39 L244.69,313.79 L245.09,314.18 L245.49,314.57 L245.89,314.95 L246.29,315.33 L246.69,315.70 L247.09,316.07 L247.49,316.43 L247.89,316.79 L248.28,317.14 L248.68,317.49 L249.08,317.84 L249.48,318.18 L249.88,318.52 L250.28,318.85 L250.68,319.18 L251.08,319.51 L251.48,319.83 L251.88,320.15 L252.28,320.46 L252.68,320.78 L253.08,321.08 L253.47,321.39 L253.87,321.69 L254.27,321.98 L254.67,322.28 L255.07,322.57 L255.47,322.85 L255.87,323.14 L256.27,323.42 L256.67,323.69 L257.07,323.97 L257.47,324.24 L257.87,324.51 L258.27,324.77 L258.67,325.03 L259.06,325.29 L259.46,325.55 L259.86,325.80 L260.26,326.05 L260.66,326.30 L261.06,326.54 L261.46,326.79 L261.86,327.03 L262.26,327.26 L262.66,327.50 L263.06,327.73 L263.46,327.96 L263.86,328.19 L264.25,328.41 L264.65,328.63 L265.05,328.85 L265.45,329.07 L265.85,329.28 L266.25,329.50 L266.65,329.71 L267.05,329.92 L267.45,330.12 L267.85,330.33 L268.25,330.53 L268.65,330.73 L269.05,330.93 L269.45,331.12 L269.84,331.32 L270.24,331.51 L270.64,331.70 L271.04,331.89 L271.44,332.07 L271.84,332.26 L272.24,332.44 L272.64,332.62 L273.04,332.80 L273.44,332.97 L273.84,333.15 L274.24,333.32 L274.64,333.49 L275.03,333.66 L275.43,333.83 L275.83,334.00 L276.23,334.16 L276.63,334.33 L277.03,334.49 L277.43,334.65 L277.83,334.81 L278.23,334.96 L278.63,335.12 L279.03,335.27 L279.43,335.42 L279.83,335.58 L280.23,335.73 L280.62,335.87 L281.02,336.02 L281.42,336.16 L281.82,336.31 L282.22,336.45 L282.62,336.59 L283.02,336.73 L283.42,336.87 L283.82,337.01 L284.22,337.14 L284.62,337.28 L285.02,337.41 L285.42,337.54 L285.82,337.67 L286.21,337.80 L286.61,337.93 L287.01,338.06 L287.41,338.18 L287.81,338.31 L288.21,338.43 L288.61,338.55 L289.01,338.68 L289.41,338.80 L289.81,338.92 L290.21,339.03 L290.61,339.15 L291.01,339.27 L291.40,339.38 L291.80,339.50 L292.20,339.61 L292.60,339.72 L293.00,339.83 L293.40,339.94 L293.80,340.05 L294.20,340.16 L294.60,340.26 L295.00,340.37 L295.40,340.47 L295.80,340.58 L296.20,340.68 L296.60,340.78 L296.99,340.88 L297.39,340.98 L297.79,341.08 L298.19,341.18 L298.59,341.28 L298.99,341.38 L299.39,341.47 L299.79,341.57 L300.19,341.66 L300.59,341.76 L300.99,341.85 L301.39,341.94 L301.79,342.03 L302.18,342.12 L302.58,342.21 L302.98,342.30 L303.38,342.39 L303.78,342.48 L304.18,342.56 L304.58,342.65 L304.98,342.73 L305.38,342.82 L305.78,342.90 L306.18,342.98 L306.58,343.07 L306.98,343.15 L307.38,343.23 L307.77,343.31 L308.17,343.39 L308.57,343.47 L308.97,343.54 L309.37,343.62 L309.77,343.70 L310.17,343.77 L310.57,343.85 L310.97,343.92 L311.37,344.00 L311.77,344.07 L312.17,344.15 L312.57,344.22 L312.96,344.29 L313.36,344.36 L313.76,344.43 L314.16,344.50 L314.56,344.57 L314.96,344.64 L315.36,344.71 L315.76,344.78 L316.16,344.84 L316.56,344.91 L316.96,344.98 L317.36,345.04 L317.76,345.11 L318.16,345.17 L318.55,345.24 L318.95,345.30 L319.35,345.36 L319.75,345.42 L320.15,345.49 L320.55,345.55 L320.95,345.61 L321.35,345.67 L321.75,345.73 L322.15,345.79 L322.55,345.85 L322.95,345.91 L323.35,345.96 L323.74,346.02 L324.14,346.08 L324.54,346.14 L324.94,346.19 L325.34,346.25 L325.74,346.30 L326.14,346.36 L326.54,346.41 L326.94,346.47 L327.34,346.52 L327.74,346.57 L328.14,346.63 L328.54,346.68 L328.94,346.73 L329.33,346.78 L329.73,346.83 L330.13,346.88 L330.53,346.93 L330.93,346.98 L331.33,347.03 L331.73,347.08 L332.13,347.13 L332.53,347.18 L332.93,347.23 L333.33,347.28 L333.73,347.32 L334.13,347.37 L334.53,347.42 L334.92,347.46 L335.32,347.51 L335.72,347.55 L336.12,347.60 L336.52,347.64 L336.92,347.69 L337.32,347.73 L337.72,347.78 L338.12,347.82 L338.52,347.86 L338.92,347.91 L339.32,347.95 L339.72,347.99 L340.11,348.03 L340.51,348.07 L340.91,348.12 L341.31,348.16 L341.71,348.20 L342.11,348.24 L342.51,348.28 L342.91,348.32 L343.31,348.36 L343.71,348.39 L344.11,348.43 L344.51,348.47 L344.91,348.51 L345.31,348.55 L345.70,348.59 L346.10,348.62 L346.50,348.66 L346.90,348.70 L347.30,348.73 L347.70,348.77 L348.10,348.81 L348.50,348.84 L348.90,348.88 L349.30,348.91 L349.70,348.95 L350.10,348.98 L350.50,349.02 L350.89,349.05 L351.29,349.08 L351.69,349.12 L352.09,349.15 L352.49,349.18 L352.89,349.22 L353.29,349.25 L353.69,349.28 L354.09,349.31 L354.49,349.35 L354.89,349.38 L355.29,349.41 L355.69,349.44 L356.09,349.47 L356.48,349.50 L356.88,349.53 L357.28,349.56 L357.68,349.59 L358.08,349.62 L358.48,349.65 L358.88,349.68 L359.28,349.71 L359.68,349.74 L360.08,349.77 L360.48,349.80 L360.88,349.83 L361.28,349.86 L361.67,349.88 L362.07,349.91 L362.47,349.94 L362.87,349.97 L363.27,349.99 L363.67,350.02 L364.07,350.05 L364.47,350.07 L364.87,350.10 L365.27,350.13 L365.67,350.15 L366.07,350.18 L366.47,350.20 L366.87,350.23 L367.26,350.26 L367.66,350.28 L368.06,350.31 L368.46,350.33 L368.86,350.36 L369.26,350.38 L369.66,350.40 L370.06,350.43 L370.46,350.45 L370.86,350.48 L371.26,350.50 L371.66,350.52 L372.06,350.55 L372.45,350.57 L372.85,350.59 L373.25,350.61 L373.65,350.64 L374.05,350.66 L374.45,350.68 L374.85,350.70 L375.25,350.73 L375.65,350.75 L376.05,350.77 L376.45,350.79 L376.85,350.81 L377.25,350.83 L377.65,350.85 L378.04,350.88 L378.44,350.90 L378.84,350.92 L379.24,350.94 L379.64,350.96 L380.04,350.98 L380.44,351.00 L380.84,351.02 L381.24,351.04 L381.64,351.06 L382.04,351.08 L382.44,351.10 L382.84,351.12 L383.24,351.13 L383.63,351.15 L384.03,351.17 L384.43,351.19 L384.83,351.21 L385.23,351.23 L385.63,351.25 L386.03,351.26 L386.43,351.28 L386.83,351.30 L387.23,351.32 L387.63,351.34 L388.03,351.35 L388.43,351.37 L388.82,351.39 L389.22,351.41 L389.62,351.42 L390.02,351.44 L390.42,351.46 L390.82,351.47 L391.22,351.49 L391.62,351.51 L392.02,351.52 L392.42,351.54 L392.82,351.56 L393.22,351.57 L393.62,351.59 L394.02,351.60 L394.41,351.62 L394.81,351.63 L395.21,351.65 L395.61,351.67 L396.01,351.68 L396.41,351.70 L396.81,351.71 L397.21,351.73 L397.61,351.74 L398.01,351.76 L398.41,351.77 L398.81,351.79 L399.21,351.80 L399.60,351.81 L400.00,351.83 L400.40,351.84 L400.80,351.86 L401.20,351.87 L401.60,351.88 L402.00,351.90 L402.20,351.91" fill="none" stroke="#00ff00" stroke-width="1.4" stroke-dasharray="30.01 9.51 30.51 9.51 30.51 9.51 30.51 9.51 30.51 9.51 30.51 9.51 30.60 8.78 29.87 8.57 45.14 8.77 51.45 1.10 19.11 5000.00" clip-path="url(#cl)"/>
<path d="M607.92,52.15 L608.27,53.76 L608.67,55.63 L609.07,57.47 L609.47,59.29 L609.87,61.09 L610.27,62.88 L610.67,64.64 L611.07,66.38 L611.47,68.11 L611.87,69.82 L612.27,71.50 L612.67,73.17 L613.07,74.82 L613.47,76.46 L613.87,78.07 L614.27,79.67 L614.67,81.25 L615.07,82.81 L615.47,84.36 L615.87,85.88 L616.27,87.39 L616.67,88.89 L617.07,90.37 L617.47,91.83 L617.87,93.27 L618.26,94.70 L618.66,96.12 L619.06,97.51 L619.46,98.90 L619.86,100.26 L620.26,101.62 L620.66,102.95 L621.06,104.27 L621.46,105.58 L621.86,106.87 L622.26,108.15 L622.66,109.42 L623.06,110.67 L623.46,111.90 L623.86,113.12 L624.26,114.33 L624.66,115.53 L625.06,116.71 L625.46,117.88 L625.86,119.03 L626.26,120.17 L626.66,121.30 L627.06,122.42 L627.46,123.52 L627.86,124.61 L628.26,125.69 L628.66,126.76 L629.06,127.81 L629.46,128.86 L629.86,129.89 L630.26,130.91 L630.66,131.91 L631.06,132.91 L631.46,133.90 L631.86,134.87 L632.26,135.83 L632.66,136.78 L633.06,137.72 L633.46,138.65 L633.86,139.57 L634.26,140.48 L634.66,141.38 L635.06,142.27 L635.46,143.15 L635.86,144.01 L636.26,144.87 L636.66,145.72 L637.06,146.56 L637.46,147.39 L637.86,148.21 L638.26,149.02 L638.66,149.82 L639.06,150.61 L639.46,151.39 L639.86,152.16 L640.26,152.93 L640.66,153.68 L641.06,154.43 L641.46,155.17 L641.86,155.89 L642.26,156.61 L642.66,157.33 L643.06,158.03 L643.46,158.73 L643.86,159.41 L644.26,160.09 L644.66,160.77 L645.06,161.43 L645.46,162.09 L645.86,162.73 L646.26,163.38 L646.66,164.01 L647.06,164.63 L647.46,165.25 L647.86,165.86 L648.26,166.47 L648.66,167.07 L649.06,167.66 L649.46,168.24 L649.86,168.82 L650.26,169.38 L650.66,169.95 L651.06,170.50 L651.46,171.05 L651.86,171.60 L652.26,172.13 L652.66,172.66 L653.06,173.19 L653.46,173.71 L653.86,174.22 L654.26,174.72 L654.66,175.22 L655.06,175.72 L655.46,176.20 L655.86,176.69 L656.26,177.16 L656.66,177.63 L657.06,178.10 L657.46,178.56 L657.86,179.01 L658.26,179.46 L658.66,179.90 L659.06,180.34 L659.46,180.77 L659.86,181.20 L660.26,181.62 L660.66,182.04 L661.06,182.45 L661.46,182.86 L661.86,183.27 L662.26,183.66 L662.66,184.06 L663.06,184.44 L663.46,184.83 L663.86,185.21 L664.26,185.58 L664.66,185.95 L665.06,186.32 L665.46,186.68 L665.86,187.04 L666.26,187.39 L666.66,187.74 L667.06,188.08 L667.46,188.42 L667.86,188.76 L668.26,189.09 L668.66,189.42 L669.06,189.74 L669.46,190.06 L669.86,190.38 L670.26,190.69 L670.66,191.00 L671.06,191.30 L671.46,191.60 L671.86,191.90 L672.26,192.19 L672.66,192.49 L673.06,192.77 L673.46,193.06 L673.86,193.34 L674.26,193.61 L674.66,193.89 L675.06,194.15 L675.46,194.42 L675.86,194.68 L676.26,194.94 L676.66,195.20 L677.06,195.46 L677.46,195.71 L677.86,195.95 L678.26,196.20 L678.66,196.44 L679.06,196.68 L679.46,196.92 L679.86,197.15 L680.26,197.38 L680.66,197.61 L681.06,197.83 L681.46,198.05 L681.86,198.27 L682.26,198.49 L682.66,198.70 L683.06,198.91 L683.46,199.12 L683.86,199.33 L684.26,199.53 L684.66,199.73 L685.06,199.93 L685.46,200.13 L685.86,200.32 L686.26,200.51 L686.66,200.70 L687.06,200.89 L687.46,201.07 L687.86,201.25 L688.26,201.43 L688.66,201.61 L689.06,201.79 L689.46,201.96 L689.86,202.13 L690.26,202.30 L690.66,202.47 L691.06,202.63 L691.46,202.80 L691.86,202.96 L692.26,203.12 L692.66,203.27 L693.05,203.43 L693.45,203.58 L693.85,203.73 L694.25,203.88 L694.65,204.03 L695.05,204.18 L695.45,204.32 L695.85,204.46 L696.25,204.60 L696.65,204.74 L697.05,204.88 L697.45,205.01 L697.85,205.15 L698.25,205.28 L698.65,205.41 L699.05,205.54 L699.45,205.67 L699.85,205.79 L700.25,205.92 L700.65,206.04 L701.05,206.16 L701.45,206.28 L701.85,206.40 L702.25,206.51 L702.65,206.63 L703.05,206.74 L703.45,206.86 L703.85,206.97 L704.25,207.08 L704.65,207.18 L705.05,207.29 L705.45,207.40 L705.85,207.50 L706.25,207.60 L706.65,207.71 L707.05,207.81 L707.45,207.91 L707.85,208.00 L708.25,208.10 L708.65,208.20 L709.05,208.29 L709.45,208.38 L709.85,208.48 L710.25,208.57 L710.65,208.66 L711.05,208.75 L711.45,208.83 L711.85,208.92 L712.25,209.00 L712.65,209.09 L713.05,209.17 L713.45,209.25 L713.85,209.34 L714.25,209.42 L714.65,209.50 L715.05,209.57 L715.45,209.65 L715.85,209.73 L716.25,209.80 L716.65,209.88 L717.05,209.95 L717.45,210.02 L717.85,210.10 L718.25,210.17 L718.65,210.24 L719.05,210.31 L719.45,210.37 L719.85,210.44 L720.25,210.51 L720.65,210.57 L721.05,210.64 L721.45,210.70 L721.85,210.77 L722.25,210.83 L722.65,210.89 L723.05,210.95 L723.45,211.01 L723.85,211.07 L724.25,211.13 L724.65,211.19 L725.05,211.24 L725.45,211.30 L725.85,211.36 L726.25,211.41 L726.65,211.47 L727.05,211.52 L727.45,211.57 L727.85,211.63 L728.25,211.68 L728.65,211.73 L729.05,211.78 L729.45,211.83 L729.85,211.88 L730.25,211.93 L730.65,211.98 L731.05,212.02 L731.45,212.07 L731.85,212.12 L732.25,212.16 L732.65,212.21 L733.05,212.25 L733.45,212.30 L733.85,212.34 L734.25,212.38 L734.65,212.42 L735.05,212.47 L735.45,212.51 L735.85,212.55 L736.25,212.59 L736.65,212.63 L737.05,212.67 L737.45,212.71 L737.85,212.75 L738.25,212.78 L738.65,212.82 L739.05,212.86 L739.45,212.89 L739.85,212.93 L740.25,212.97 L740.65,213.00 L741.05,213.04 L741.45,213.07 L741.85,213.10 L742.25,213.14 L742.65,213.17 L743.05,213.20 L743.45,213.23 L743.85,213.27 L744.25,213.30 L744.65,213.33 L745.05,213.36 L745.45,213.39 L745.85,213.42 L746.25,213.45 L746.65,213.48 L747.05,213.51 L747.45,213.54 L747.85,213.56 L748.25,213.59 L748.65,213.62 L749.05,213.65 L749.45,213.67 L749.85,213.70 L750.25,213.72 L750.65,213.75 L751.05,213.78 L751.45,213.80 L751.85,213.83 L752.25,213.85 L752.65,213.87 L753.05,213.90 L753.45,213.92 L753.85,213.94 L754.25,213.97 L754.65,213.99 L755.05,214.01 L755.45,214.03 L755.85,214.06 L756.25,214.08 L756.65,214.10 L757.05,214.12 L757.45,214.14 L757.85,214.16 L758.25,214.18 L758.65,214.20 L759.05,214.22 L759.45,214.24 L759.85,214.26 L760.25,214.28 L760.65,214.30 L761.05,214.32 L761.45,214.33 L761.85,214.35 L762.25,214.37 L762.65,214.39 L763.05,214.40 L763.45,214.42 L763.85,214.44 L764.25,214.46 L764.65,214.47 L765.05,214.49 L765.45,214.50 L765.85,214.52 L766.25,214.54 L766.65,214.55 L767.05,214.57 L767.44,214.58 L767.84,214.60 L768.24,214.61 L768.64,214.63 L769.04,214.64 L769.44,214.66 L769.84,214.67 L770.24,214.68 L770.64,214.70 L771.04,214.71 L771.44,214.72 L771.84,214.74 L772.24,214.75 L772.64,214.76 L773.04,214.78 L773.44,214.79 L773.84,214.80 L774.24,214.81 L774.64,214.82 L775.04,214.84 L775.44,214.85 L775.84,214.86 L776.24,214.87 L776.64,214.88 L777.04,214.89 L777.44,214.91 L777.84,214.92 L778.24,214.93 L778.64,214.94 L779.04,214.95 L779.44,214.96 L779.84,214.97 L780.24,214.98 L780.64,214.99 L781.04,215.00 L781.44,215.01 L781.84,215.02 L782.24,215.03 L782.64,215.04 L783.04,215.05 L783.44,215.06 L783.84,215.06 L784.24,215.07 L784.64,215.08 L785.04,215.09 L785.44,215.10 L785.84,215.11 L786.24,215.12 L786.64,215.12 L787.04,215.13 L787.44,215.14 L787.84,215.15 L788.24,215.16 L788.64,215.16 L789.04,215.17 L789.44,215.18 L789.84,215.19 L790.24,215.19 L790.64,215.20 L791.04,215.21 L791.44,215.22 L791.84,215.22 L792.24,215.23 L792.64,215.24 L793.04,215.24 L793.44,215.25 L793.84,215.26 L794.24,215.26 L794.64,215.27 L795.04,215.28 L795.44,215.28 L795.84,215.29 L796.24,215.29 L796.64,215.30 L797.04,215.31 L797.44,215.31 L797.84,215.32 L798.24,215.32 L798.64,215.33 L799.04,215.34 L799.44,215.34 L799.84,215.35 L800.24,215.35 L800.64,215.36 L801.04,215.36 L801.44,215.37 L801.84,215.37 L802.24,215.38 L802.64,215.38 L803.04,215.39 L803.44,215.39 L803.84,215.40 L804.24,215.40 L804.64,215.41 L805.04,215.41 L805.44,215.42 L805.84,215.42 L806.24,215.43 L806.64,215.43 L807.04,215.43 L807.44,215.44 L807.84,215.44 L808.24,215.45 L808.64,215.45 L809.04,215.45 L809.44,215.46 L809.84,215.46 L810.24,215.47 L810.64,215.47 L811.04,215.47 L811.44,215.48 L811.84,215.48 L812.24,215.49 L812.64,215.49 L813.04,215.49 L813.44,215.50 L813.84,215.50 L814.24,215.50 L814.64,215.51 L815.04,215.51 L815.44,215.51 L815.84,215.52 L816.24,215.52 L816.64,215.52 L817.04,215.53 L817.44,215.53 L817.84,215.53 L818.24,215.54 L818.64,215.54 L819.04,215.54 L819.44,215.54 L819.84,215.55 L820.24,215.55 L820.64,215.55 L821.04,215.56 L821.44,215.56 L821.84,215.56 L822.24,215.56 L822.64,215.57 L823.04,215.57 L823.44,215.57 L823.84,215.58 L824.24,215.58 L824.64,215.58 L825.04,215.58 L825.44,215.58 L825.84,215.59 L826.24,215.59 L826.64,215.59 L827.04,215.59 L827.44,215.60 L827.84,215.60 L828.24,215.60 L828.64,215.60 L829.04,215.61 L829.44,215.61 L829.84,215.61 L830.24,215.61 L830.64,215.61 L831.04,215.62 L831.44,215.62 L831.84,215.62 L832.24,215.62 L832.64,215.62 L833.04,215.63 L833.44,215.63 L833.84,215.63 L834.24,215.63 L834.64,215.63 L835.04,215.64 L835.44,215.64 L835.84,215.64 L836.24,215.64 L836.64,215.64 L837.04,215.64 L837.44,215.65 L837.84,215.65 L838.24,215.65 L838.64,215.65 L839.04,215.65 L839.44,215.65 L839.84,215.66 L840.24,215.66 L840.64,215.66 L841.04,215.66 L841.44,215.66 L841.84,215.66 L842.23,215.66 L842.63,215.67 L843.03,215.67 L843.43,215.67 L843.83,215.67 L844.23,215.67 L844.63,215.67 L845.03,215.67 L845.43,215.67 L845.83,215.68 L846.23,215.68 L846.63,215.68 L847.03,215.68 L847.43,215.68 L847.83,215.68 L848.23,215.68 L848.63,215.68 L849.03,215.69 L849.43,215.69 L849.83,215.69 L850.23,215.69 L850.63,215.69 L851.03,215.69 L851.43,215.69 L851.83,215.69 L852.23,215.69 L852.63,215.70 L853.03,215.70 L853.43,215.70 L853.83,215.70 L854.23,215.70 L854.30,215.70" fill="none" stroke="#000" stroke-width="1.4" clip-path="url(#cr)"/>
<path d="M598.50,52.15 L598.87,54.23 L599.27,56.46 L599.67,58.66 L600.07,60.85 L600.47,63.00 L600.87,65.14 L601.27,67.25 L601.67,69.34 L602.07,71.41 L602.47,73.45 L602.87,75.48 L603.27,77.48 L603.67,79.46 L604.07,81.42 L604.47,83.35 L604.87,85.27 L605.27,87.16 L605.67,89.04 L606.07,90.89 L606.47,92.73 L606.87,94.54 L607.27,96.34 L607.67,98.11 L608.07,99.87 L608.47,101.60 L608.87,103.32 L609.27,105.02 L609.67,106.70 L610.07,108.37 L610.47,110.01 L610.87,111.64 L611.27,113.24 L611.67,114.84 L612.07,116.41 L612.47,117.97 L612.87,119.50 L613.27,121.03 L613.67,122.53 L614.07,124.02 L614.47,125.49 L614.87,126.95 L615.27,128.39 L615.67,129.82 L616.07,131.23 L616.47,132.62 L616.87,134.00 L617.27,135.36 L617.67,136.71 L618.07,138.04 L618.46,139.36 L618.86,140.66 L619.26,141.95 L619.66,143.23 L620.06,144.49 L620.46,145.73 L620.86,146.97 L621.26,148.19 L621.66,149.39 L622.06,150.58 L622.46,151.76 L622.86,152.93 L623.26,154.08 L623.66,155.22 L624.06,156.35 L624.46,157.46 L624.86,158.56 L625.26,159.65 L625.66,160.73 L626.06,161.79 L626.46,162.85 L626.86,163.89 L627.26,164.92 L627.66,165.93 L628.06,166.94 L628.46,167.94 L628.86,168.92 L629.26,169.89 L629.66,170.85 L630.06,171.80 L630.46,172.74 L630.86,173.67 L631.26,174.59 L631.66,175.50 L632.06,176.40 L632.46,177.28 L632.86,178.16 L633.26,179.03 L633.66,179.89 L634.06,180.73 L634.46,181.57 L634.86,182.40 L635.26,183.22 L635.66,184.03 L636.06,184.83 L636.46,185.62 L636.86,186.40 L637.26,187.17 L637.66,187.94 L638.06,188.69 L638.46,189.44 L638.86,190.18 L639.26,190.91 L639.66,191.63 L640.06,192.34 L640.46,193.04 L640.86,193.74 L641.26,194.43 L641.66,195.11 L642.06,195.78 L642.46,196.44 L642.86,197.10 L643.26,197.75 L643.66,198.39 L644.06,199.03 L644.46,199.65 L644.86,200.27 L645.26,200.88 L645.66,201.49 L646.06,202.09 L646.46,202.68 L646.86,203.26 L647.26,203.84 L647.66,204.41 L648.06,204.97 L648.46,205.53 L648.86,206.08 L649.26,206.62 L649.66,207.16 L650.06,207.69 L650.46,208.22 L650.86,208.74 L651.26,209.25 L651.66,209.75 L652.06,210.26 L652.46,210.75 L652.86,211.24 L653.26,211.72 L653.66,212.20 L654.06,212.67 L654.46,213.14 L654.86,213.60 L655.26,214.05 L655.66,214.50 L656.06,214.95 L656.46,215.39 L656.86,215.82 L657.26,216.25 L657.66,216.67 L658.06,217.09 L658.46,217.50 L658.86,217.91 L659.26,218.32 L659.66,218.72 L660.06,219.11 L660.46,219.50 L660.86,219.88 L661.26,220.26 L661.66,220.64 L662.06,221.01 L662.46,221.38 L662.86,221.74 L663.26,222.10 L663.66,222.45 L664.06,222.80 L664.46,223.15 L664.86,223.49 L665.26,223.83 L665.66,224.16 L666.06,224.49 L666.46,224.81 L666.86,225.13 L667.26,225.45 L667.66,225.76 L668.06,226.07 L668.46,226.38 L668.86,226.68 L669.26,226.98 L669.66,227.28 L670.06,227.57 L670.46,227.85 L670.86,228.14 L671.26,228.42 L671.66,228.70 L672.06,228.97 L672.46,229.24 L672.86,229.51 L673.26,229.77 L673.66,230.04 L674.06,230.29 L674.46,230.55 L674.86,230.80 L675.26,231.05 L675.66,231.29 L676.06,231.54 L676.46,231.78 L676.86,232.01 L677.26,232.25 L677.66,232.48 L678.06,232.71 L678.46,232.93 L678.86,233.16 L679.26,233.38 L679.66,233.59 L680.06,233.81 L680.46,234.02 L680.86,234.23 L681.26,234.44 L681.66,234.64 L682.06,234.84 L682.46,235.04 L682.86,235.24 L683.26,235.43 L683.66,235.63 L684.06,235.82 L684.46,236.00 L684.86,236.19 L685.26,236.37 L685.66,236.55 L686.06,236.73 L686.46,236.91 L686.86,237.08 L687.26,237.25 L687.66,237.42 L688.06,237.59 L688.46,237.76 L688.86,237.92 L689.26,238.08 L689.66,238.24 L690.06,238.40 L690.46,238.56 L690.86,238.71 L691.26,238.86 L691.66,239.01 L692.06,239.16 L692.46,239.31 L692.85,239.45 L693.25,239.60 L693.65,239.74 L694.05,239.88 L694.45,240.01 L694.85,240.15 L695.25,240.28 L695.65,240.42 L696.05,240.55 L696.45,240.68 L696.85,240.81 L697.25,240.93 L697.65,241.06 L698.05,241.18 L698.45,241.30 L698.85,241.42 L699.25,241.54 L699.65,241.66 L700.05,241.77 L700.45,241.89 L700.85,242.00 L701.25,242.11 L701.65,242.22 L702.05,242.33 L702.45,242.44 L702.85,242.55 L703.25,242.65 L703.65,242.75 L704.05,242.86 L704.45,242.96 L704.85,243.06 L705.25,243.16 L705.65,243.25 L706.05,243.35 L706.45,243.44 L706.85,243.54 L707.25,243.63 L707.65,243.72 L708.05,243.81 L708.45,243.90 L708.85,243.99 L709.25,244.08 L709.65,244.16 L710.05,244.25 L710.45,244.33 L710.85,244.41 L711.25,244.50 L711.65,244.58 L712.05,244.66 L712.45,244.73 L712.85,244.81 L713.25,244.89 L713.65,244.96 L714.05,245.04 L714.45,245.11 L714.85,245.19 L715.25,245.26 L715.65,245.33 L716.05,245.40 L716.45,245.47 L716.85,245.54 L717.25,245.61 L717.65,245.67 L718.05,245.74 L718.45,245.80 L718.85,245.87 L719.25,245.93 L719.65,246.00 L720.05,246.06 L720.45,246.12 L720.85,246.18 L721.25,246.24 L721.65,246.30 L722.05,246.36 L722.45,246.41 L722.85,246.47 L723.25,246.53 L723.65,246.58 L724.05,246.64 L724.45,246.69 L724.85,246.75 L725.25,246.80 L725.65,246.85 L726.05,246.90 L726.45,246.95 L726.85,247.00 L727.25,247.05 L727.65,247.10 L728.05,247.15 L728.45,247.20 L728.85,247.25 L729.25,247.29 L729.65,247.34 L730.05,247.38 L730.45,247.43 L730.85,247.47 L731.25,247.52 L731.65,247.56 L732.05,247.60 L732.45,247.64 L732.85,247.69 L733.25,247.73 L733.65,247.77 L734.05,247.81 L734.45,247.85 L734.85,247.89 L735.25,247.92 L735.65,247.96 L736.05,248.00 L736.45,248.04 L736.85,248.07 L737.25,248.11 L737.65,248.15 L738.05,248.18 L738.45,248.22 L738.85,248.25 L739.25,248.28 L739.65,248.32 L740.05,248.35 L740.45,248.38 L740.85,248.42 L741.25,248.45 L741.65,248.48 L742.05,248.51 L742.45,248.54 L742.85,248.57 L743.25,248.60 L743.65,248.63 L744.05,248.66 L744.45,248.69 L744.85,248.72 L745.25,248.75 L745.65,248.78 L746.05,248.80 L746.45,248.83 L746.85,248.86 L747.25,248.88 L747.65,248.91 L748.05,248.94 L748.45,248.96 L748.85,248.99 L749.25,249.01 L749.65,249.04 L750.05,249.06 L750.45,249.08 L750.85,249.11 L751.25,249.13 L751.65,249.15 L752.05,249.18 L752.45,249.20 L752.85,249.22 L753.25,249.24 L753.65,249.26 L754.05,249.29 L754.45,249.31 L754.85,249.33 L755.25,249.35 L755.65,249.37 L756.05,249.39 L756.45,249.41 L756.85,249.43 L757.25,249.45 L757.65,249.47 L758.05,249.49 L758.45,249.50 L758.85,249.52 L759.25,249.54 L759.65,249.56 L760.05,249.58 L760.45,249.59 L760.85,249.61 L761.25,249.63 L761.65,249.65 L762.05,249.66 L762.45,249.68 L762.85,249.69 L763.25,249.71 L763.65,249.73 L764.05,249.74 L764.45,249.76 L764.85,249.77 L765.25,249.79 L765.65,249.80 L766.05,249.82 L766.45,249.83 L766.85,249.85 L767.25,249.86 L767.64,249.87 L768.04,249.89 L768.44,249.90 L768.84,249.92 L769.24,249.93 L769.64,249.94 L770.04,249.95 L770.44,249.97 L770.84,249.98 L771.24,249.99 L771.64,250.00 L772.04,250.02 L772.44,250.03 L772.84,250.04 L773.24,250.05 L773.64,250.06 L774.04,250.08 L774.44,250.09 L774.84,250.10 L775.24,250.11 L775.64,250.12 L776.04,250.13 L776.44,250.14 L776.84,250.15 L777.24,250.16 L777.64,250.17 L778.04,250.18 L778.44,250.19 L778.84,250.20 L779.24,250.21 L779.64,250.22 L780.04,250.23 L780.44,250.24 L780.84,250.25 L781.24,250.26 L781.64,250.27 L782.04,250.28 L782.44,250.28 L782.84,250.29 L783.24,250.30 L783.64,250.31 L784.04,250.32 L784.44,250.33 L784.84,250.33 L785.24,250.34 L785.64,250.35 L786.04,250.36 L786.44,250.37 L786.84,250.37 L787.24,250.38 L787.64,250.39 L788.04,250.40 L788.44,250.40 L788.84,250.41 L789.24,250.42 L789.64,250.42 L790.04,250.43 L790.44,250.44 L790.84,250.45 L791.24,250.45 L791.64,250.46 L792.04,250.46 L792.44,250.47 L792.84,250.48 L793.24,250.48 L793.64,250.49 L794.04,250.50 L794.44,250.50 L794.84,250.51 L795.24,250.51 L795.64,250.52 L796.04,250.53 L796.44,250.53 L796.84,250.54 L797.24,250.54 L797.64,250.55 L798.04,250.55 L798.44,250.56 L798.84,250.56 L799.24,250.57 L799.64,250.57 L800.04,250.58 L800.44,250.58 L800.84,250.59 L801.24,250.59 L801.64,250.60 L802.04,250.60 L802.44,250.61 L802.84,250.61 L803.24,250.62 L803.64,250.62 L804.04,250.63 L804.44,250.63 L804.84,250.63 L805.24,250.64 L805.64,250.64 L806.04,250.65 L806.44,250.65 L806.84,250.66 L807.24,250.66 L807.64,250.66 L808.04,250.67 L808.44,250.67 L808.84,250.67 L809.24,250.68 L809.64,250.68 L810.04,250.69 L810.44,250.69 L810.84,250.69 L811.24,250.70 L811.64,250.70 L812.04,250.70 L812.44,250.71 L812.84,250.71 L813.24,250.71 L813.64,250.72 L814.04,250.72 L814.44,250.72 L814.84,250.73 L815.24,250.73 L815.64,250.73 L816.04,250.74 L816.44,250.74 L816.84,250.74 L817.24,250.74 L817.64,250.75 L818.04,250.75 L818.44,250.75 L818.84,250.76 L819.24,250.76 L819.64,250.76 L820.04,250.76 L820.44,250.77 L820.84,250.77 L821.24,250.77 L821.64,250.77 L822.04,250.78 L822.44,250.78 L822.84,250.78 L823.24,250.78 L823.64,250.79 L824.04,250.79 L824.44,250.79 L824.84,250.79 L825.24,250.80 L825.64,250.80 L826.04,250.80 L826.44,250.80 L826.84,250.80 L827.24,250.81 L827.64,250.81 L828.04,250.81 L828.44,250.81 L828.84,250.82 L829.24,250.82 L829.64,250.82 L830.04,250.82 L830.44,250.82 L830.84,250.83 L831.24,250.83 L831.64,250.83 L832.04,250.83 L832.44,250.83 L832.84,250.83 L833.24,250.84 L833.64,250.84 L834.04,250.84 L834.44,250.84 L834.84,250.84 L835.24,250.84 L835.64,250.85 L836.04,250.85 L836.44,250.85 L836.84,250.85 L837.24,250.85 L837.64,250.85 L838.04,250.86 L838.44,250.86 L838.84,250.86 L839.24,250.86 L839.64,250.86 L840.04,250.86 L840.44,250.86 L840.84,250.87 L841.24,250.87 L841.64,250.87 L842.03,250.87 L842.43,250.87 L842.83,250.87 L843.23,250.87 L843.63,250.88 L844.03,250.88 L844.43,250.88 L844.83,250.88 L845.23,250.88 L845.63,250.88 L846.03,250.88 L846.43,250.88 L846.83,250.88 L847.23,250.89 L847.63,250.89 L848.03,250.89 L848.43,250.89 L848.83,250.89 L849.23,250.89 L849.63,250.89 L850.03,250.89 L850.43,250.89 L850.83,250.90 L851.23,250.90 L851.63,250.90 L852.03,250.90 L852.43,250.90 L852.83,250.90 L853.23,250.90 L853.63,250.90 L854.03,250.90 L854.30,250.90" fill="none" stroke="#ff0000" stroke-width="1.4" stroke-dasharray="2.9 4.0" stroke-dashoffset="0.5" clip-path="url(#cr)"/>
<path d="M587.74,69.05 L588.14,71.69 L588.54,74.31 L588.94,76.90 L589.34,79.46 L589.74,81.99 L590.14,84.50 L590.54,86.97 L590.94,89.43 L591.34,91.85 L591.74,94.25 L592.14,96.63 L592.54,98.98 L592.94,101.30 L593.33,103.60 L593.73,105.87 L594.13,108.12 L594.53,110.35 L594.93,112.55 L595.33,114.72 L595.73,116.88 L596.13,119.01 L596.53,121.12 L596.93,123.20 L597.33,125.27 L597.73,127.31 L598.13,129.33 L598.53,131.32 L598.93,133.30 L599.33,135.25 L599.73,137.19 L600.13,139.10 L600.53,140.99 L600.93,142.86 L601.33,144.72 L601.73,146.55 L602.13,148.36 L602.53,150.15 L602.93,151.92 L603.33,153.68 L603.73,155.41 L604.13,157.13 L604.53,158.83 L604.93,160.51 L605.33,162.17 L605.73,163.81 L606.13,165.44 L606.53,167.04 L606.93,168.63 L607.33,170.21 L607.73,171.76 L608.13,173.30 L608.53,174.82 L608.93,176.33 L609.33,177.82 L609.73,179.29 L610.13,180.75 L610.53,182.19 L610.93,183.62 L611.33,185.03 L611.73,186.42 L612.13,187.80 L612.53,189.16 L612.93,190.51 L613.33,191.85 L613.73,193.17 L614.13,194.47 L614.53,195.76 L614.93,197.04 L615.33,198.30 L615.73,199.55 L616.13,200.79 L616.53,202.01 L616.93,203.21 L617.33,204.41 L617.73,205.59 L618.13,206.76 L618.53,207.91 L618.93,209.06 L619.33,210.19 L619.73,211.30 L620.13,212.41 L620.53,213.50 L620.93,214.58 L621.33,215.65 L621.73,216.71 L622.13,217.75 L622.53,218.78 L622.93,219.81 L623.33,220.82 L623.73,221.81 L624.13,222.80 L624.53,223.78 L624.93,224.74 L625.33,225.70 L625.73,226.64 L626.13,227.58 L626.53,228.50 L626.93,229.41 L627.33,230.31 L627.73,231.20 L628.13,232.09 L628.53,232.96 L628.93,233.82 L629.33,234.67 L629.73,235.52 L630.13,236.35 L630.53,237.17 L630.93,237.99 L631.33,238.79 L631.73,239.59 L632.13,240.37 L632.53,241.15 L632.93,241.92 L633.33,242.68 L633.73,243.43 L634.13,244.17 L634.53,244.91 L634.93,245.64 L635.33,246.35 L635.73,247.06 L636.13,247.76 L636.53,248.46 L636.93,249.14 L637.33,249.82 L637.73,250.49 L638.13,251.15 L638.53,251.80 L638.93,252.45 L639.33,253.09 L639.73,253.72 L640.13,254.35 L640.53,254.96 L640.93,255.57 L641.33,256.18 L641.73,256.77 L642.13,257.36 L642.53,257.94 L642.93,258.52 L643.33,259.09 L643.73,259.65 L644.13,260.21 L644.53,260.75 L644.93,261.30 L645.33,261.83 L645.73,262.36 L646.13,262.89 L646.53,263.41 L646.93,263.92 L647.33,264.42 L647.73,264.92 L648.13,265.42 L648.53,265.90 L648.93,266.39 L649.33,266.86 L649.73,267.33 L650.13,267.80 L650.53,268.26 L650.93,268.71 L651.33,269.16 L651.73,269.61 L652.13,270.05 L652.53,270.48 L652.93,270.91 L653.33,271.33 L653.73,271.75 L654.13,272.16 L654.53,272.57 L654.93,272.98 L655.33,273.37 L655.73,273.77 L656.13,274.16 L656.53,274.54 L656.93,274.92 L657.33,275.30 L657.73,275.67 L658.13,276.04 L658.53,276.40 L658.93,276.76 L659.33,277.11 L659.73,277.46 L660.13,277.81 L660.53,278.15 L660.93,278.48 L661.33,278.82 L661.73,279.15 L662.13,279.47 L662.53,279.79 L662.93,280.11 L663.33,280.42 L663.73,280.73 L664.13,281.04 L664.53,281.34 L664.93,281.64 L665.33,281.94 L665.73,282.23 L666.13,282.52 L666.53,282.80 L666.93,283.08 L667.33,283.36 L667.73,283.64 L668.12,283.91 L668.52,284.18 L668.92,284.44 L669.32,284.70 L669.72,284.96 L670.12,285.22 L670.52,285.47 L670.92,285.72 L671.32,285.96 L671.72,286.21 L672.12,286.45 L672.52,286.68 L672.92,286.92 L673.32,287.15 L673.72,287.38 L674.12,287.61 L674.52,287.83 L674.92,288.05 L675.32,288.27 L675.72,288.48 L676.12,288.70 L676.52,288.91 L676.92,289.11 L677.32,289.32 L677.72,289.52 L678.12,289.72 L678.52,289.92 L678.92,290.11 L679.32,290.31 L679.72,290.50 L680.12,290.68 L680.52,290.87 L680.92,291.05 L681.32,291.24 L681.72,291.41 L682.12,291.59 L682.52,291.77 L682.92,291.94 L683.32,292.11 L683.72,292.28 L684.12,292.44 L684.52,292.61 L684.92,292.77 L685.32,292.93 L685.72,293.09 L686.12,293.25 L686.52,293.40 L686.92,293.55 L687.32,293.70 L687.72,293.85 L688.12,294.00 L688.52,294.15 L688.92,294.29 L689.32,294.43 L689.72,294.57 L690.12,294.71 L690.52,294.85 L690.92,294.98 L691.32,295.11 L691.72,295.25 L692.12,295.38 L692.52,295.50 L692.92,295.63 L693.32,295.76 L693.72,295.88 L694.12,296.00 L694.52,296.12 L694.92,296.24 L695.32,296.36 L695.72,296.48 L696.12,296.59 L696.52,296.71 L696.92,296.82 L697.32,296.93 L697.72,297.04 L698.12,297.15 L698.52,297.25 L698.92,297.36 L699.32,297.46 L699.72,297.56 L700.12,297.67 L700.52,297.77 L700.92,297.86 L701.32,297.96 L701.72,298.06 L702.12,298.15 L702.52,298.25 L702.92,298.34 L703.32,298.43 L703.72,298.52 L704.12,298.61 L704.52,298.70 L704.92,298.79 L705.32,298.88 L705.72,298.96 L706.12,299.05 L706.52,299.13 L706.92,299.21 L707.32,299.29 L707.72,299.37 L708.12,299.45 L708.52,299.53 L708.92,299.61 L709.32,299.68 L709.72,299.76 L710.12,299.83 L710.52,299.91 L710.92,299.98 L711.32,300.05 L711.72,300.12 L712.12,300.19 L712.52,300.26 L712.92,300.33 L713.32,300.40 L713.72,300.46 L714.12,300.53 L714.52,300.59 L714.92,300.66 L715.32,300.72 L715.72,300.78 L716.12,300.84 L716.52,300.90 L716.92,300.96 L717.32,301.02 L717.72,301.08 L718.12,301.14 L718.52,301.20 L718.92,301.25 L719.32,301.31 L719.72,301.37 L720.12,301.42 L720.52,301.47 L720.92,301.53 L721.32,301.58 L721.72,301.63 L722.12,301.68 L722.52,301.73 L722.92,301.78 L723.32,301.83 L723.72,301.88 L724.12,301.93 L724.52,301.98 L724.92,302.02 L725.32,302.07 L725.72,302.11 L726.12,302.16 L726.52,302.20 L726.92,302.25 L727.32,302.29 L727.72,302.33 L728.12,302.38 L728.52,302.42 L728.92,302.46 L729.32,302.50 L729.72,302.54 L730.12,302.58 L730.52,302.62 L730.92,302.66 L731.32,302.70 L731.72,302.73 L732.12,302.77 L732.52,302.81 L732.92,302.85 L733.32,302.88 L733.72,302.92 L734.12,302.95 L734.52,302.99 L734.92,303.02 L735.32,303.06 L735.72,303.09 L736.12,303.12 L736.52,303.15 L736.92,303.19 L737.32,303.22 L737.72,303.25 L738.12,303.28 L738.52,303.31 L738.92,303.34 L739.32,303.37 L739.72,303.40 L740.12,303.43 L740.52,303.46 L740.92,303.49 L741.32,303.51 L741.72,303.54 L742.12,303.57 L742.51,303.60 L742.91,303.62 L743.31,303.65 L743.71,303.68 L744.11,303.70 L744.51,303.73 L744.91,303.75 L745.31,303.78 L745.71,303.80 L746.11,303.82 L746.51,303.85 L746.91,303.87 L747.31,303.90 L747.71,303.92 L748.11,303.94 L748.51,303.96 L748.91,303.99 L749.31,304.01 L749.71,304.03 L750.11,304.05 L750.51,304.07 L750.91,304.09 L751.31,304.11 L751.71,304.13 L752.11,304.15 L752.51,304.17 L752.91,304.19 L753.31,304.21 L753.71,304.23 L754.11,304.25 L754.51,304.27 L754.91,304.28 L755.31,304.30 L755.71,304.32 L756.11,304.34 L756.51,304.36 L756.91,304.37 L757.31,304.39 L757.71,304.41 L758.11,304.42 L758.51,304.44 L758.91,304.46 L759.31,304.47 L759.71,304.49 L760.11,304.50 L760.51,304.52 L760.91,304.53 L761.31,304.55 L761.71,304.56 L762.11,304.58 L762.51,304.59 L762.91,304.61 L763.31,304.62 L763.71,304.63 L764.11,304.65 L764.51,304.66 L764.91,304.67 L765.31,304.69 L765.71,304.70 L766.11,304.71 L766.51,304.73 L766.91,304.74 L767.31,304.75 L767.71,304.76 L768.11,304.78 L768.51,304.79 L768.91,304.80 L769.31,304.81 L769.71,304.82 L770.11,304.83 L770.51,304.84 L770.91,304.86 L771.31,304.87 L771.71,304.88 L772.11,304.89 L772.51,304.90 L772.91,304.91 L773.31,304.92 L773.71,304.93 L774.11,304.94 L774.51,304.95 L774.91,304.96 L775.31,304.97 L775.71,304.98 L776.11,304.99 L776.51,305.00 L776.91,305.01 L777.31,305.02 L777.71,305.02 L778.11,305.03 L778.51,305.04 L778.91,305.05 L779.31,305.06 L779.71,305.07 L780.11,305.08 L780.51,305.08 L780.91,305.09 L781.31,305.10 L781.71,305.11 L782.11,305.12 L782.51,305.12 L782.91,305.13 L783.31,305.14 L783.71,305.15 L784.11,305.15 L784.51,305.16 L784.91,305.17 L785.31,305.17 L785.71,305.18 L786.11,305.19 L786.51,305.19 L786.91,305.20 L787.31,305.21 L787.71,305.21 L788.11,305.22 L788.51,305.23 L788.91,305.23 L789.31,305.24 L789.71,305.25 L790.11,305.25 L790.51,305.26 L790.91,305.26 L791.31,305.27 L791.71,305.28 L792.11,305.28 L792.51,305.29 L792.91,305.29 L793.31,305.30 L793.71,305.30 L794.11,305.31 L794.51,305.31 L794.91,305.32 L795.31,305.32 L795.71,305.33 L796.11,305.33 L796.51,305.34 L796.91,305.34 L797.31,305.35 L797.71,305.35 L798.11,305.36 L798.51,305.36 L798.91,305.37 L799.31,305.37 L799.71,305.38 L800.11,305.38 L800.51,305.38 L800.91,305.39 L801.31,305.39 L801.71,305.40 L802.11,305.40 L802.51,305.41 L802.91,305.41 L803.31,305.41 L803.71,305.42 L804.11,305.42 L804.51,305.43 L804.91,305.43 L805.31,305.43 L805.71,305.44 L806.11,305.44 L806.51,305.44 L806.91,305.45 L807.31,305.45 L807.71,305.45 L808.11,305.46 L808.51,305.46 L808.91,305.46 L809.31,305.47 L809.71,305.47 L810.11,305.47 L810.51,305.48 L810.91,305.48 L811.31,305.48 L811.71,305.49 L812.11,305.49 L812.51,305.49 L812.91,305.50 L813.31,305.50 L813.71,305.50 L814.11,305.50 L814.51,305.51 L814.91,305.51 L815.31,305.51 L815.71,305.52 L816.11,305.52 L816.51,305.52 L816.91,305.52 L817.30,305.53 L817.70,305.53 L818.10,305.53 L818.50,305.53 L818.90,305.54 L819.30,305.54 L819.70,305.54 L820.10,305.54 L820.50,305.55 L820.90,305.55 L821.30,305.55 L821.70,305.55 L822.10,305.55 L822.50,305.56 L822.90,305.56 L823.30,305.56 L823.70,305.56 L824.10,305.57 L824.50,305.57 L824.90,305.57 L825.30,305.57 L825.70,305.57 L826.10,305.58 L826.50,305.58 L826.90,305.58 L827.30,305.58 L827.70,305.58 L828.10,305.58 L828.50,305.59 L828.90,305.59 L829.30,305.59 L829.70,305.59 L830.10,305.59 L830.50,305.59 L830.90,305.60 L831.30,305.60 L831.70,305.60 L832.10,305.60 L832.50,305.60 L832.90,305.60 L833.30,305.61 L833.70,305.61 L834.10,305.61 L834.50,305.61 L834.90,305.61 L835.30,305.61 L835.70,305.62 L836.10,305.62 L836.50,305.62 L836.90,305.62 L837.30,305.62 L837.70,305.62 L838.10,305.62 L838.50,305.62 L838.90,305.63 L839.30,305.63 L839.70,305.63 L840.10,305.63 L840.50,305.63 L840.90,305.63 L841.30,305.63 L841.70,305.63 L842.10,305.64 L842.50,305.64 L842.90,305.64 L843.30,305.64 L843.70,305.64 L844.10,305.64 L844.50,305.64 L844.90,305.64 L845.30,305.64 L845.70,305.65 L846.10,305.65 L846.50,305.65 L846.90,305.65 L847.30,305.65 L847.70,305.65 L848.10,305.65 L848.50,305.65 L848.90,305.65 L849.30,305.65 L849.70,305.66 L850.10,305.66 L850.50,305.66 L850.90,305.66 L851.30,305.66 L851.70,305.66 L852.10,305.66 L852.50,305.66 L852.90,305.66 L853.30,305.66 L853.70,305.66 L854.10,305.66 L854.30,305.67" fill="none" stroke="#0000ff" stroke-width="1.4" stroke-dasharray="12.44 9.04 12.44 9.04 12.44 9.04 12.44 9.04 12.44 9.04 12.44 9.04 12.44 9.04 12.44 9.04 12.44 9.04 12.44 9.04 12.44 9.04 12.44 9.04 12.50 8.29 20.91 8.73 11.42 9.31 12.01 9.10 12.30 6.00 12.50 8.90 12.30 0.90 12.90 8.20 0.30 5000.00" clip-path="url(#cr)"/>
<rect x="110.40" y="52.15" width="306.60" height="321.90" fill="none" stroke="#000" stroke-width="1.4"/>
<rect x="562.00" y="52.15" width="306.90" height="321.70" fill="none" stroke="#000" stroke-width="1.4"/>
<line x1="154.32" y1="374.05" x2="154.32" y2="366.30" stroke="#000" stroke-width="1.4"/>
<line x1="154.32" y1="52.15" x2="154.32" y2="59.90" stroke="#000" stroke-width="1.4"/>
<line x1="180.01" y1="374.05" x2="180.01" y2="366.30" stroke="#000" stroke-width="1.4"/>
<line x1="180.01" y1="52.15" x2="180.01" y2="59.90" stroke="#000" stroke-width="1.4"/>
<line x1="198.24" y1="374.05" x2="198.24" y2="366.30" stroke="#000" stroke-width="1.4"/>
<line x1="198.24" y1="52.15" x2="198.24" y2="59.90" stroke="#000" stroke-width="1.4"/>
<line x1="212.38" y1="374.05" x2="212.38" y2="366.30" stroke="#000" stroke-width="1.4"/>
<line x1="212.38" y1="52.15" x2="212.38" y2="59.90" stroke="#000" stroke-width="1.4"/>
<line x1="223.93" y1="374.05" x2="223.93" y2="366.30" stroke="#000" stroke-width="1.4"/>
<line x1="223.93" y1="52.15" x2="223.93" y2="59.90" stroke="#000" stroke-width="1.4"/>
<line x1="233.70" y1="374.05" x2="233.70" y2="366.30" stroke="#000" stroke-width="1.4"/>
<line x1="233.70" y1="52.15" x2="233.70" y2="59.90" stroke="#000" stroke-width="1.4"/>
<line x1="242.16" y1="374.05" x2="242.16" y2="366.30" stroke="#000" stroke-width="1.4"/>
<line x1="242.16" y1="52.15" x2="242.16" y2="59.90" stroke="#000" stroke-width="1.4"/>
<line x1="249.62" y1="374.05" x2="249.62" y2="366.30" stroke="#000" stroke-width="1.4"/>
<line x1="249.62" y1="52.15" x2="249.62" y2="59.90" stroke="#000" stroke-width="1.4"/>
<line x1="256.30" y1="374.05" x2="256.30" y2="358.35" stroke="#000" stroke-width="1.4"/>
<line x1="256.30" y1="52.15" x2="256.30" y2="67.85" stroke="#000" stroke-width="1.4"/>
<line x1="300.22" y1="374.05" x2="300.22" y2="366.30" stroke="#000" stroke-width="1.4"/>
<line x1="300.22" y1="52.15" x2="300.22" y2="59.90" stroke="#000" stroke-width="1.4"/>
<line x1="325.91" y1="374.05" x2="325.91" y2="366.30" stroke="#000" stroke-width="1.4"/>
<line x1="325.91" y1="52.15" x2="325.91" y2="59.90" stroke="#000" stroke-width="1.4"/>
<line x1="344.14" y1="374.05" x2="344.14" y2="366.30" stroke="#000" stroke-width="1.4"/>
<line x1="344.14" y1="52.15" x2="344.14" y2="59.90" stroke="#000" stroke-width="1.4"/>
<line x1="358.28" y1="374.05" x2="358.28" y2="366.30" stroke="#000" stroke-width="1.4"/>
<line x1="358.28" y1="52.15" x2="358.28" y2="59.90" stroke="#000" stroke-width="1.4"/>
<line x1="369.83" y1="374.05" x2="369.83" y2="366.30" stroke="#000" stroke-width="1.4"/>
<line x1="369.83" y1="52.15" x2="369.83" y2="59.90" stroke="#000" stroke-width="1.4"/>
<line x1="379.60" y1="374.05" x2="379.60" y2="366.30" stroke="#000" stroke-width="1.4"/>
<line x1="379.60" y1="52.15" x2="379.60" y2="59.90" stroke="#000" stroke-width="1.4"/>
<line x1="388.06" y1="374.05" x2="388.06" y2="366.30" stroke="#000" stroke-width="1.4"/>
<line x1="388.06" y1="52.15" x2="388.06" y2="59.90" stroke="#000" stroke-width="1.4"/>
<line x1="395.52" y1="374.05" x2="395.52" y2="366.30" stroke="#000" stroke-width="1.4"/>
<line x1="395.52" y1="52.15" x2="395.52" y2="59.90" stroke="#000" stroke-width="1.4"/>
<line x1="402.20" y1="374.05" x2="402.20" y2="358.35" stroke="#000" stroke-width="1.4"/>
<line x1="402.20" y1="52.15" x2="402.20" y2="67.85" stroke="#000" stroke-width="1.4"/>
<line x1="606.00" y1="373.85" x2="606.00" y2="366.10" stroke="#000" stroke-width="1.4"/>
<line x1="606.00" y1="52.15" x2="606.00" y2="59.90" stroke="#000" stroke-width="1.4"/>
<line x1="631.73" y1="373.85" x2="631.73" y2="366.10" stroke="#000" stroke-width="1.4"/>
<line x1="631.73" y1="52.15" x2="631.73" y2="59.90" stroke="#000" stroke-width="1.4"/>
<line x1="649.99" y1="373.85" x2="649.99" y2="366.10" stroke="#000" stroke-width="1.4"/>
<line x1="649.99" y1="52.15" x2="649.99" y2="59.90" stroke="#000" stroke-width="1.4"/>
<line x1="664.15" y1="373.85" x2="664.15" y2="366.10" stroke="#000" stroke-width="1.4"/>
<line x1="664.15" y1="52.15" x2="664.15" y2="59.90" stroke="#000" stroke-width="1.4"/>
<line x1="675.73" y1="373.85" x2="675.73" y2="366.10" stroke="#000" stroke-width="1.4"/>
<line x1="675.73" y1="52.15" x2="675.73" y2="59.90" stroke="#000" stroke-width="1.4"/>
<line x1="685.51" y1="373.85" x2="685.51" y2="366.10" stroke="#000" stroke-width="1.4"/>
<line x1="685.51" y1="52.15" x2="685.51" y2="59.90" stroke="#000" stroke-width="1.4"/>
<line x1="693.99" y1="373.85" x2="693.99" y2="366.10" stroke="#000" stroke-width="1.4"/>
<line x1="693.99" y1="52.15" x2="693.99" y2="59.90" stroke="#000" stroke-width="1.4"/>
<line x1="701.46" y1="373.85" x2="701.46" y2="366.10" stroke="#000" stroke-width="1.4"/>
<line x1="701.46" y1="52.15" x2="701.46" y2="59.90" stroke="#000" stroke-width="1.4"/>
<line x1="708.15" y1="373.85" x2="708.15" y2="358.15" stroke="#000" stroke-width="1.4"/>
<line x1="708.15" y1="52.15" x2="708.15" y2="67.85" stroke="#000" stroke-width="1.4"/>
<line x1="752.15" y1="373.85" x2="752.15" y2="366.10" stroke="#000" stroke-width="1.4"/>
<line x1="752.15" y1="52.15" x2="752.15" y2="59.90" stroke="#000" stroke-width="1.4"/>
<line x1="777.88" y1="373.85" x2="777.88" y2="366.10" stroke="#000" stroke-width="1.4"/>
<line x1="777.88" y1="52.15" x2="777.88" y2="59.90" stroke="#000" stroke-width="1.4"/>
<line x1="796.14" y1="373.85" x2="796.14" y2="366.10" stroke="#000" stroke-width="1.4"/>
<line x1="796.14" y1="52.15" x2="796.14" y2="59.90" stroke="#000" stroke-width="1.4"/>
<line x1="810.30" y1="373.85" x2="810.30" y2="366.10" stroke="#000" stroke-width="1.4"/>
<line x1="810.30" y1="52.15" x2="810.30" y2="59.90" stroke="#000" stroke-width="1.4"/>
<line x1="821.88" y1="373.85" x2="821.88" y2="366.10" stroke="#000" stroke-width="1.4"/>
<line x1="821.88" y1="52.15" x2="821.88" y2="59.90" stroke="#000" stroke-width="1.4"/>
<line x1="831.66" y1="373.85" x2="831.66" y2="366.10" stroke="#000" stroke-width="1.4"/>
<line x1="831.66" y1="52.15" x2="831.66" y2="59.90" stroke="#000" stroke-width="1.4"/>
<line x1="840.14" y1="373.85" x2="840.14" y2="366.10" stroke="#000" stroke-width="1.4"/>
<line x1="840.14" y1="52.15" x2="840.14" y2="59.90" stroke="#000" stroke-width="1.4"/>
<line x1="847.61" y1="373.85" x2="847.61" y2="366.10" stroke="#000" stroke-width="1.4"/>
<line x1="847.61" y1="52.15" x2="847.61" y2="59.90" stroke="#000" stroke-width="1.4"/>
<line x1="854.30" y1="373.85" x2="854.30" y2="358.15" stroke="#000" stroke-width="1.4"/>
<line x1="854.30" y1="52.15" x2="854.30" y2="67.85" stroke="#000" stroke-width="1.4"/>
<line x1="110.40" y1="354.00" x2="126.10" y2="354.00" stroke="#000" stroke-width="1.4"/>
<line x1="417.00" y1="354.00" x2="401.30" y2="354.00" stroke="#000" stroke-width="1.4"/>
<line x1="110.40" y1="333.88" x2="118.15" y2="333.88" stroke="#000" stroke-width="1.4"/>
<line x1="417.00" y1="333.88" x2="409.25" y2="333.88" stroke="#000" stroke-width="1.4"/>
<line x1="110.40" y1="313.76" x2="118.15" y2="313.76" stroke="#000" stroke-width="1.4"/>
<line x1="417.00" y1="313.76" x2="409.25" y2="313.76" stroke="#000" stroke-width="1.4"/>
<line x1="110.40" y1="293.64" x2="118.15" y2="293.64" stroke="#000" stroke-width="1.4"/>
<line x1="417.00" y1="293.64" x2="409.25" y2="293.64" stroke="#000" stroke-width="1.4"/>
<line x1="110.40" y1="273.52" x2="118.15" y2="273.52" stroke="#000" stroke-width="1.4"/>
<line x1="417.00" y1="273.52" x2="409.25" y2="273.52" stroke="#000" stroke-width="1.4"/>
<line x1="110.40" y1="253.40" x2="126.10" y2="253.40" stroke="#000" stroke-width="1.4"/>
<line x1="417.00" y1="253.40" x2="401.30" y2="253.40" stroke="#000" stroke-width="1.4"/>
<line x1="110.40" y1="233.28" x2="118.15" y2="233.28" stroke="#000" stroke-width="1.4"/>
<line x1="417.00" y1="233.28" x2="409.25" y2="233.28" stroke="#000" stroke-width="1.4"/>
<line x1="110.40" y1="213.16" x2="118.15" y2="213.16" stroke="#000" stroke-width="1.4"/>
<line x1="417.00" y1="213.16" x2="409.25" y2="213.16" stroke="#000" stroke-width="1.4"/>
<line x1="110.40" y1="193.04" x2="118.15" y2="193.04" stroke="#000" stroke-width="1.4"/>
<line x1="417.00" y1="193.04" x2="409.25" y2="193.04" stroke="#000" stroke-width="1.4"/>
<line x1="110.40" y1="172.92" x2="118.15" y2="172.92" stroke="#000" stroke-width="1.4"/>
<line x1="417.00" y1="172.92" x2="409.25" y2="172.92" stroke="#000" stroke-width="1.4"/>
<line x1="110.40" y1="152.80" x2="126.10" y2="152.80" stroke="#000" stroke-width="1.4"/>
<line x1="417.00" y1="152.80" x2="401.30" y2="152.80" stroke="#000" stroke-width="1.4"/>
<line x1="110.40" y1="132.68" x2="118.15" y2="132.68" stroke="#000" stroke-width="1.4"/>
<line x1="417.00" y1="132.68" x2="409.25" y2="132.68" stroke="#000" stroke-width="1.4"/>
<line x1="110.40" y1="112.56" x2="118.15" y2="112.56" stroke="#000" stroke-width="1.4"/>
<line x1="417.00" y1="112.56" x2="409.25" y2="112.56" stroke="#000" stroke-width="1.4"/>
<line x1="110.40" y1="92.44" x2="118.15" y2="92.44" stroke="#000" stroke-width="1.4"/>
<line x1="417.00" y1="92.44" x2="409.25" y2="92.44" stroke="#000" stroke-width="1.4"/>
<line x1="110.40" y1="72.32" x2="118.15" y2="72.32" stroke="#000" stroke-width="1.4"/>
<line x1="417.00" y1="72.32" x2="409.25" y2="72.32" stroke="#000" stroke-width="1.4"/>
<line x1="562.00" y1="362.26" x2="569.75" y2="362.26" stroke="#000" stroke-width="1.4"/>
<line x1="868.90" y1="362.26" x2="861.15" y2="362.26" stroke="#000" stroke-width="1.4"/>
<line x1="562.00" y1="349.27" x2="569.75" y2="349.27" stroke="#000" stroke-width="1.4"/>
<line x1="868.90" y1="349.27" x2="861.15" y2="349.27" stroke="#000" stroke-width="1.4"/>
<line x1="562.00" y1="336.28" x2="569.75" y2="336.28" stroke="#000" stroke-width="1.4"/>
<line x1="868.90" y1="336.28" x2="861.15" y2="336.28" stroke="#000" stroke-width="1.4"/>
<line x1="562.00" y1="323.29" x2="569.75" y2="323.29" stroke="#000" stroke-width="1.4"/>
<line x1="868.90" y1="323.29" x2="861.15" y2="323.29" stroke="#000" stroke-width="1.4"/>
<line x1="562.00" y1="310.30" x2="577.70" y2="310.30" stroke="#000" stroke-width="1.4"/>
<line x1="868.90" y1="310.30" x2="853.20" y2="310.30" stroke="#000" stroke-width="1.4"/>
<line x1="562.00" y1="297.31" x2="569.75" y2="297.31" stroke="#000" stroke-width="1.4"/>
<line x1="868.90" y1="297.31" x2="861.15" y2="297.31" stroke="#000" stroke-width="1.4"/>
<line x1="562.00" y1="284.32" x2="569.75" y2="284.32" stroke="#000" stroke-width="1.4"/>
<line x1="868.90" y1="284.32" x2="861.15" y2="284.32" stroke="#000" stroke-width="1.4"/>
<line x1="562.00" y1="271.33" x2="569.75" y2="271.33" stroke="#000" stroke-width="1.4"/>
<line x1="868.90" y1="271.33" x2="861.15" y2="271.33" stroke="#000" stroke-width="1.4"/>
<line x1="562.00" y1="258.34" x2="569.75" y2="258.34" stroke="#000" stroke-width="1.4"/>
<line x1="868.90" y1="258.34" x2="861.15" y2="258.34" stroke="#000" stroke-width="1.4"/>
<line x1="562.00" y1="245.35" x2="577.70" y2="245.35" stroke="#000" stroke-width="1.4"/>
<line x1="868.90" y1="245.35" x2="853.20" y2="245.35" stroke="#000" stroke-width="1.4"/>
<line x1="562.00" y1="232.36" x2="569.75" y2="232.36" stroke="#000" stroke-width="1.4"/>
<line x1="868.90" y1="232.36" x2="861.15" y2="232.36" stroke="#000" stroke-width="1.4"/>
<line x1="562.00" y1="219.37" x2="569.75" y2="219.37" stroke="#000" stroke-width="1.4"/>
<line x1="868.90" y1="219.37" x2="861.15" y2="219.37" stroke="#000" stroke-width="1.4"/>
<line x1="562.00" y1="206.38" x2="569.75" y2="206.38" stroke="#000" stroke-width="1.4"/>
<line x1="868.90" y1="206.38" x2="861.15" y2="206.38" stroke="#000" stroke-width="1.4"/>
<line x1="562.00" y1="193.39" x2="569.75" y2="193.39" stroke="#000" stroke-width="1.4"/>
<line x1="868.90" y1="193.39" x2="861.15" y2="193.39" stroke="#000" stroke-width="1.4"/>
<line x1="562.00" y1="180.40" x2="577.70" y2="180.40" stroke="#000" stroke-width="1.4"/>
<line x1="868.90" y1="180.40" x2="853.20" y2="180.40" stroke="#000" stroke-width="1.4"/>
<line x1="562.00" y1="167.41" x2="569.75" y2="167.41" stroke="#000" stroke-width="1.4"/>
<line x1="868.90" y1="167.41" x2="861.15" y2="167.41" stroke="#000" stroke-width="1.4"/>
<line x1="562.00" y1="154.42" x2="569.75" y2="154.42" stroke="#000" stroke-width="1.4"/>
<line x1="868.90" y1="154.42" x2="861.15" y2="154.42" stroke="#000" stroke-width="1.4"/>
<line x1="562.00" y1="141.43" x2="569.75" y2="141.43" stroke="#000" stroke-width="1.4"/>
<line x1="868.90" y1="141.43" x2="861.15" y2="141.43" stroke="#000" stroke-width="1.4"/>
<line x1="562.00" y1="128.44" x2="569.75" y2="128.44" stroke="#000" stroke-width="1.4"/>
<line x1="868.90" y1="128.44" x2="861.15" y2="128.44" stroke="#000" stroke-width="1.4"/>
<line x1="562.00" y1="115.45" x2="577.70" y2="115.45" stroke="#000" stroke-width="1.4"/>
<line x1="868.90" y1="115.45" x2="853.20" y2="115.45" stroke="#000" stroke-width="1.4"/>
<line x1="562.00" y1="102.46" x2="569.75" y2="102.46" stroke="#000" stroke-width="1.4"/>
<line x1="868.90" y1="102.46" x2="861.15" y2="102.46" stroke="#000" stroke-width="1.4"/>
<line x1="562.00" y1="89.47" x2="569.75" y2="89.47" stroke="#000" stroke-width="1.4"/>
<line x1="868.90" y1="89.47" x2="861.15" y2="89.47" stroke="#000" stroke-width="1.4"/>
<line x1="562.00" y1="76.48" x2="569.75" y2="76.48" stroke="#000" stroke-width="1.4"/>
<line x1="868.90" y1="76.48" x2="861.15" y2="76.48" stroke="#000" stroke-width="1.4"/>
<line x1="562.00" y1="63.49" x2="569.75" y2="63.49" stroke="#000" stroke-width="1.4"/>
<line x1="868.90" y1="63.49" x2="861.15" y2="63.49" stroke="#000" stroke-width="1.4"/>
<line x1="263.2" y1="116.8" x2="325.1" y2="116.8" stroke="#00ff00" stroke-width="1.4" stroke-dasharray="30.6 9.6"/>
<line x1="263.2" y1="164.6" x2="325.1" y2="164.6" stroke="#0000ff" stroke-width="1.4" stroke-dasharray="12.5 9.1"/>
<line x1="263.2" y1="213.1" x2="325.1" y2="213.1" stroke="#ff0000" stroke-width="1.4" stroke-dasharray="2.9 4.0"/>
<line x1="263.2" y1="261.4" x2="325.1" y2="261.4" stroke="#000" stroke-width="1.4"/>
<text transform="translate(81.98,362.50) scale(1.067,1.000)" font-size="25.0">4</text>
<text transform="translate(81.14,261.90) scale(1.211,1.000)" font-size="25.0">5</text>
<text transform="translate(81.66,161.30) scale(1.152,1.000)" font-size="25.0">6</text>
<text transform="translate(80.52,59.90) scale(1.263,1.000)" font-size="25.0">7</text>
<text transform="translate(533.41,318.90) scale(1.162,1.000)" font-size="25.0">3</text>
<text transform="translate(511.36,253.95) scale(1.162,1.000)" font-size="25.0">3</text><text transform="translate(527.03,253.95) scale(0.982,1.000)" font-size="25.0">.</text><text transform="translate(533.14,253.95) scale(1.211,1.000)" font-size="25.0">5</text>
<text transform="translate(533.98,189.00) scale(1.067,1.000)" font-size="25.0">4</text>
<text transform="translate(511.93,124.05) scale(1.067,1.000)" font-size="25.0">4</text><text transform="translate(527.03,124.05) scale(0.982,1.000)" font-size="25.0">.</text><text transform="translate(533.14,124.05) scale(1.211,1.000)" font-size="25.0">5</text>
<text transform="translate(104.65,404.00) scale(0.864,1.000)" font-size="25.0">1</text>
<text transform="translate(243.20,404.00) scale(0.864,1.000)" font-size="25.0">1</text><text transform="translate(256.38,404.00) scale(1.180,1.000)" font-size="25.0">0</text>
<text transform="translate(381.75,404.00) scale(0.864,1.000)" font-size="25.0">1</text><text transform="translate(394.93,404.00) scale(1.180,1.000)" font-size="25.0">0</text><text transform="translate(409.63,404.00) scale(1.180,1.000)" font-size="25.0">0</text>
<text transform="translate(255.15,433.00) scale(0.770,1.020)" font-size="25.0">M</text>
<text transform="translate(556.25,404.00) scale(0.864,1.000)" font-size="25.0">1</text>
<text transform="translate(695.05,404.00) scale(0.864,1.000)" font-size="25.0">1</text><text transform="translate(708.23,404.00) scale(1.180,1.000)" font-size="25.0">0</text>
<text transform="translate(833.85,404.00) scale(0.864,1.000)" font-size="25.0">1</text><text transform="translate(847.03,404.00) scale(1.180,1.000)" font-size="25.0">0</text><text transform="translate(861.73,404.00) scale(1.180,1.000)" font-size="25.0">0</text>
<text transform="translate(706.90,433.00) scale(0.770,1.020)" font-size="25.0">M</text>
<text transform="translate(331.48,117.30) scale(0.989,1.019)" font-size="25.0" font-style="italic" fill="#00ff00">δ</text>
<text transform="translate(346.43,117.30) scale(1.178,0.890)" font-size="25.0" fill="#00ff00">=</text>
<text transform="translate(366.30,117.30) scale(0.864,1.000)" font-size="25.0" fill="#00ff00">1</text><text transform="translate(380.28,117.30) scale(0.982,1.000)" font-size="25.0" fill="#00ff00">.</text><text transform="translate(386.39,117.30) scale(1.211,1.000)" font-size="25.0" fill="#00ff00">5</text>
<text transform="translate(331.48,165.10) scale(0.989,1.019)" font-size="25.0" font-style="italic" fill="#0000ff">δ</text>
<text transform="translate(346.43,165.10) scale(1.178,0.890)" font-size="25.0" fill="#0000ff">=</text>
<text transform="translate(366.30,165.10) scale(0.864,1.000)" font-size="25.0" fill="#0000ff">1</text><text transform="translate(380.28,165.10) scale(0.982,1.000)" font-size="25.0" fill="#0000ff">.</text><text transform="translate(386.83,165.10) scale(1.180,1.000)" font-size="25.0" fill="#0000ff">0</text>
<text transform="translate(331.48,213.60) scale(0.989,1.019)" font-size="25.0" font-style="italic" fill="#ff0000">δ</text>
<text transform="translate(346.43,213.60) scale(1.178,0.890)" font-size="25.0" fill="#ff0000">=</text>
<text transform="translate(364.78,213.60) scale(1.180,1.000)" font-size="25.0" fill="#ff0000">0</text><text transform="translate(380.28,213.60) scale(0.982,1.000)" font-size="25.0" fill="#ff0000">.</text><text transform="translate(386.39,213.60) scale(1.211,1.000)" font-size="25.0" fill="#ff0000">5</text>
<text transform="translate(331.48,261.90) scale(0.989,1.019)" font-size="25.0" font-style="italic" fill="#000">δ</text>
<text transform="translate(346.43,261.90) scale(1.178,0.890)" font-size="25.0" fill="#000">=</text>
<text transform="translate(364.78,261.90) scale(1.180,1.000)" font-size="25.0" fill="#000">0</text>
<text transform="translate(693.61,194.10) scale(1.041,1.000)" font-size="25.0" fill="#000">ϵ</text>
<text transform="translate(706.50,201.00) scale(0.859,1.000)" font-size="16.0" fill="#000">B</text>
<text transform="translate(716.83,194.10) scale(1.178,0.890)" font-size="25.0" fill="#000">=</text>
<text transform="translate(735.28,194.10) scale(1.180,1.000)" font-size="25.0" fill="#000">0</text><text transform="translate(750.78,194.10) scale(0.982,1.000)" font-size="25.0" fill="#000">.</text><text transform="translate(757.18,194.10) scale(1.197,1.000)" font-size="25.0" fill="#000">2</text><text transform="translate(773.55,194.10) scale(0.864,1.000)" font-size="25.0" fill="#000">1</text>
<text transform="translate(678.86,271.80) scale(1.041,1.000)" font-size="25.0" fill="#ff0000">ϵ</text>
<text transform="translate(691.75,278.70) scale(0.859,1.000)" font-size="16.0" fill="#ff0000">B</text>
<text transform="translate(702.08,271.80) scale(1.178,0.890)" font-size="25.0" fill="#ff0000">=</text>
<text transform="translate(720.53,271.80) scale(1.180,1.000)" font-size="25.0" fill="#ff0000">0</text><text transform="translate(736.03,271.80) scale(0.982,1.000)" font-size="25.0" fill="#ff0000">.</text><text transform="translate(742.43,271.80) scale(1.197,1.000)" font-size="25.0" fill="#ff0000">2</text><text transform="translate(757.11,271.80) scale(1.162,1.000)" font-size="25.0" fill="#ff0000">3</text>
<text transform="translate(664.51,323.70) scale(1.041,1.000)" font-size="25.0" fill="#0000ff">ϵ</text>
<text transform="translate(677.40,330.60) scale(0.859,1.000)" font-size="16.0" fill="#0000ff">B</text>
<text transform="translate(687.73,323.70) scale(1.178,0.890)" font-size="25.0" fill="#0000ff">=</text>
<text transform="translate(706.18,323.70) scale(1.180,1.000)" font-size="25.0" fill="#0000ff">0</text><text transform="translate(721.68,323.70) scale(0.982,1.000)" font-size="25.0" fill="#0000ff">.</text><text transform="translate(728.08,323.70) scale(1.197,1.000)" font-size="25.0" fill="#0000ff">2</text><text transform="translate(741.87,323.70) scale(1.263,1.000)" font-size="25.0" fill="#0000ff">7</text>
<g transform="translate(59.0,226.9) rotate(-90)">
<text transform="translate(-1.02,0.00) scale(1.131,1.000)" font-size="25.0">q</text>
<text transform="translate(13.90,7.00) scale(1.263,1.000)" font-size="16.0">t</text>
<text transform="translate(20.11,7.00) scale(1.138,1.000)" font-size="16.0">p</text>
</g>
<g transform="translate(489.0,305.2) rotate(-90)">
<text transform="translate(-0.78,0.00) scale(0.759,1.015)" font-size="25.0">Q</text>
<text transform="translate(25.12,0.00) scale(0.809,1.014)" font-size="25.0">M</text>
<text transform="translate(43.83,0.00) scale(1.128,1.000)" font-size="25.0">,</text>
<text transform="translate(49.84,0.00) scale(1.111,1.000)" font-size="25.0">ϵ</text>
<text transform="translate(64.29,7.00) scale(0.880,1.000)" font-size="16.0">B</text>
<text transform="translate(85.39,0.00) scale(1.135,0.890)" font-size="25.0">=</text>
<text transform="translate(103.79,0.00) scale(1.025,1.000)" font-size="25.0">p</text>
<text transform="translate(118.99,7.00) scale(0.920,1.000)" font-size="16.0">i</text>
<text transform="translate(123.80,7.00) scale(0.825,1.000)" font-size="16.0">n</text>
<text transform="translate(132.96,7.00) scale(1.218,1.000)" font-size="16.0">j</text>
<text transform="translate(154.99,0.00) scale(1.016,1.000)" font-size="25.0">p</text>
<text transform="translate(168.74,7.00) scale(1.025,1.000)" font-size="16.0">t</text>
<text transform="translate(175.20,7.00) scale(1.258,1.000)" font-size="16.0">h</text>
<path d="M23.50,-19.60 Q9.70,-7.90 23.50,3.80" fill="none" stroke="#000" stroke-width="1.35" stroke-linecap="round"/>
<path d="M74.60,-19.60 Q87.20,-7.90 74.60,3.80" fill="none" stroke="#000" stroke-width="1.35" stroke-linecap="round"/>
<line x1="139.4" y1="3.6" x2="152.7" y2="-19.4" stroke="#000" stroke-width="1.3" stroke-linecap="round"/>
</g>
</svg>
</body></html>
